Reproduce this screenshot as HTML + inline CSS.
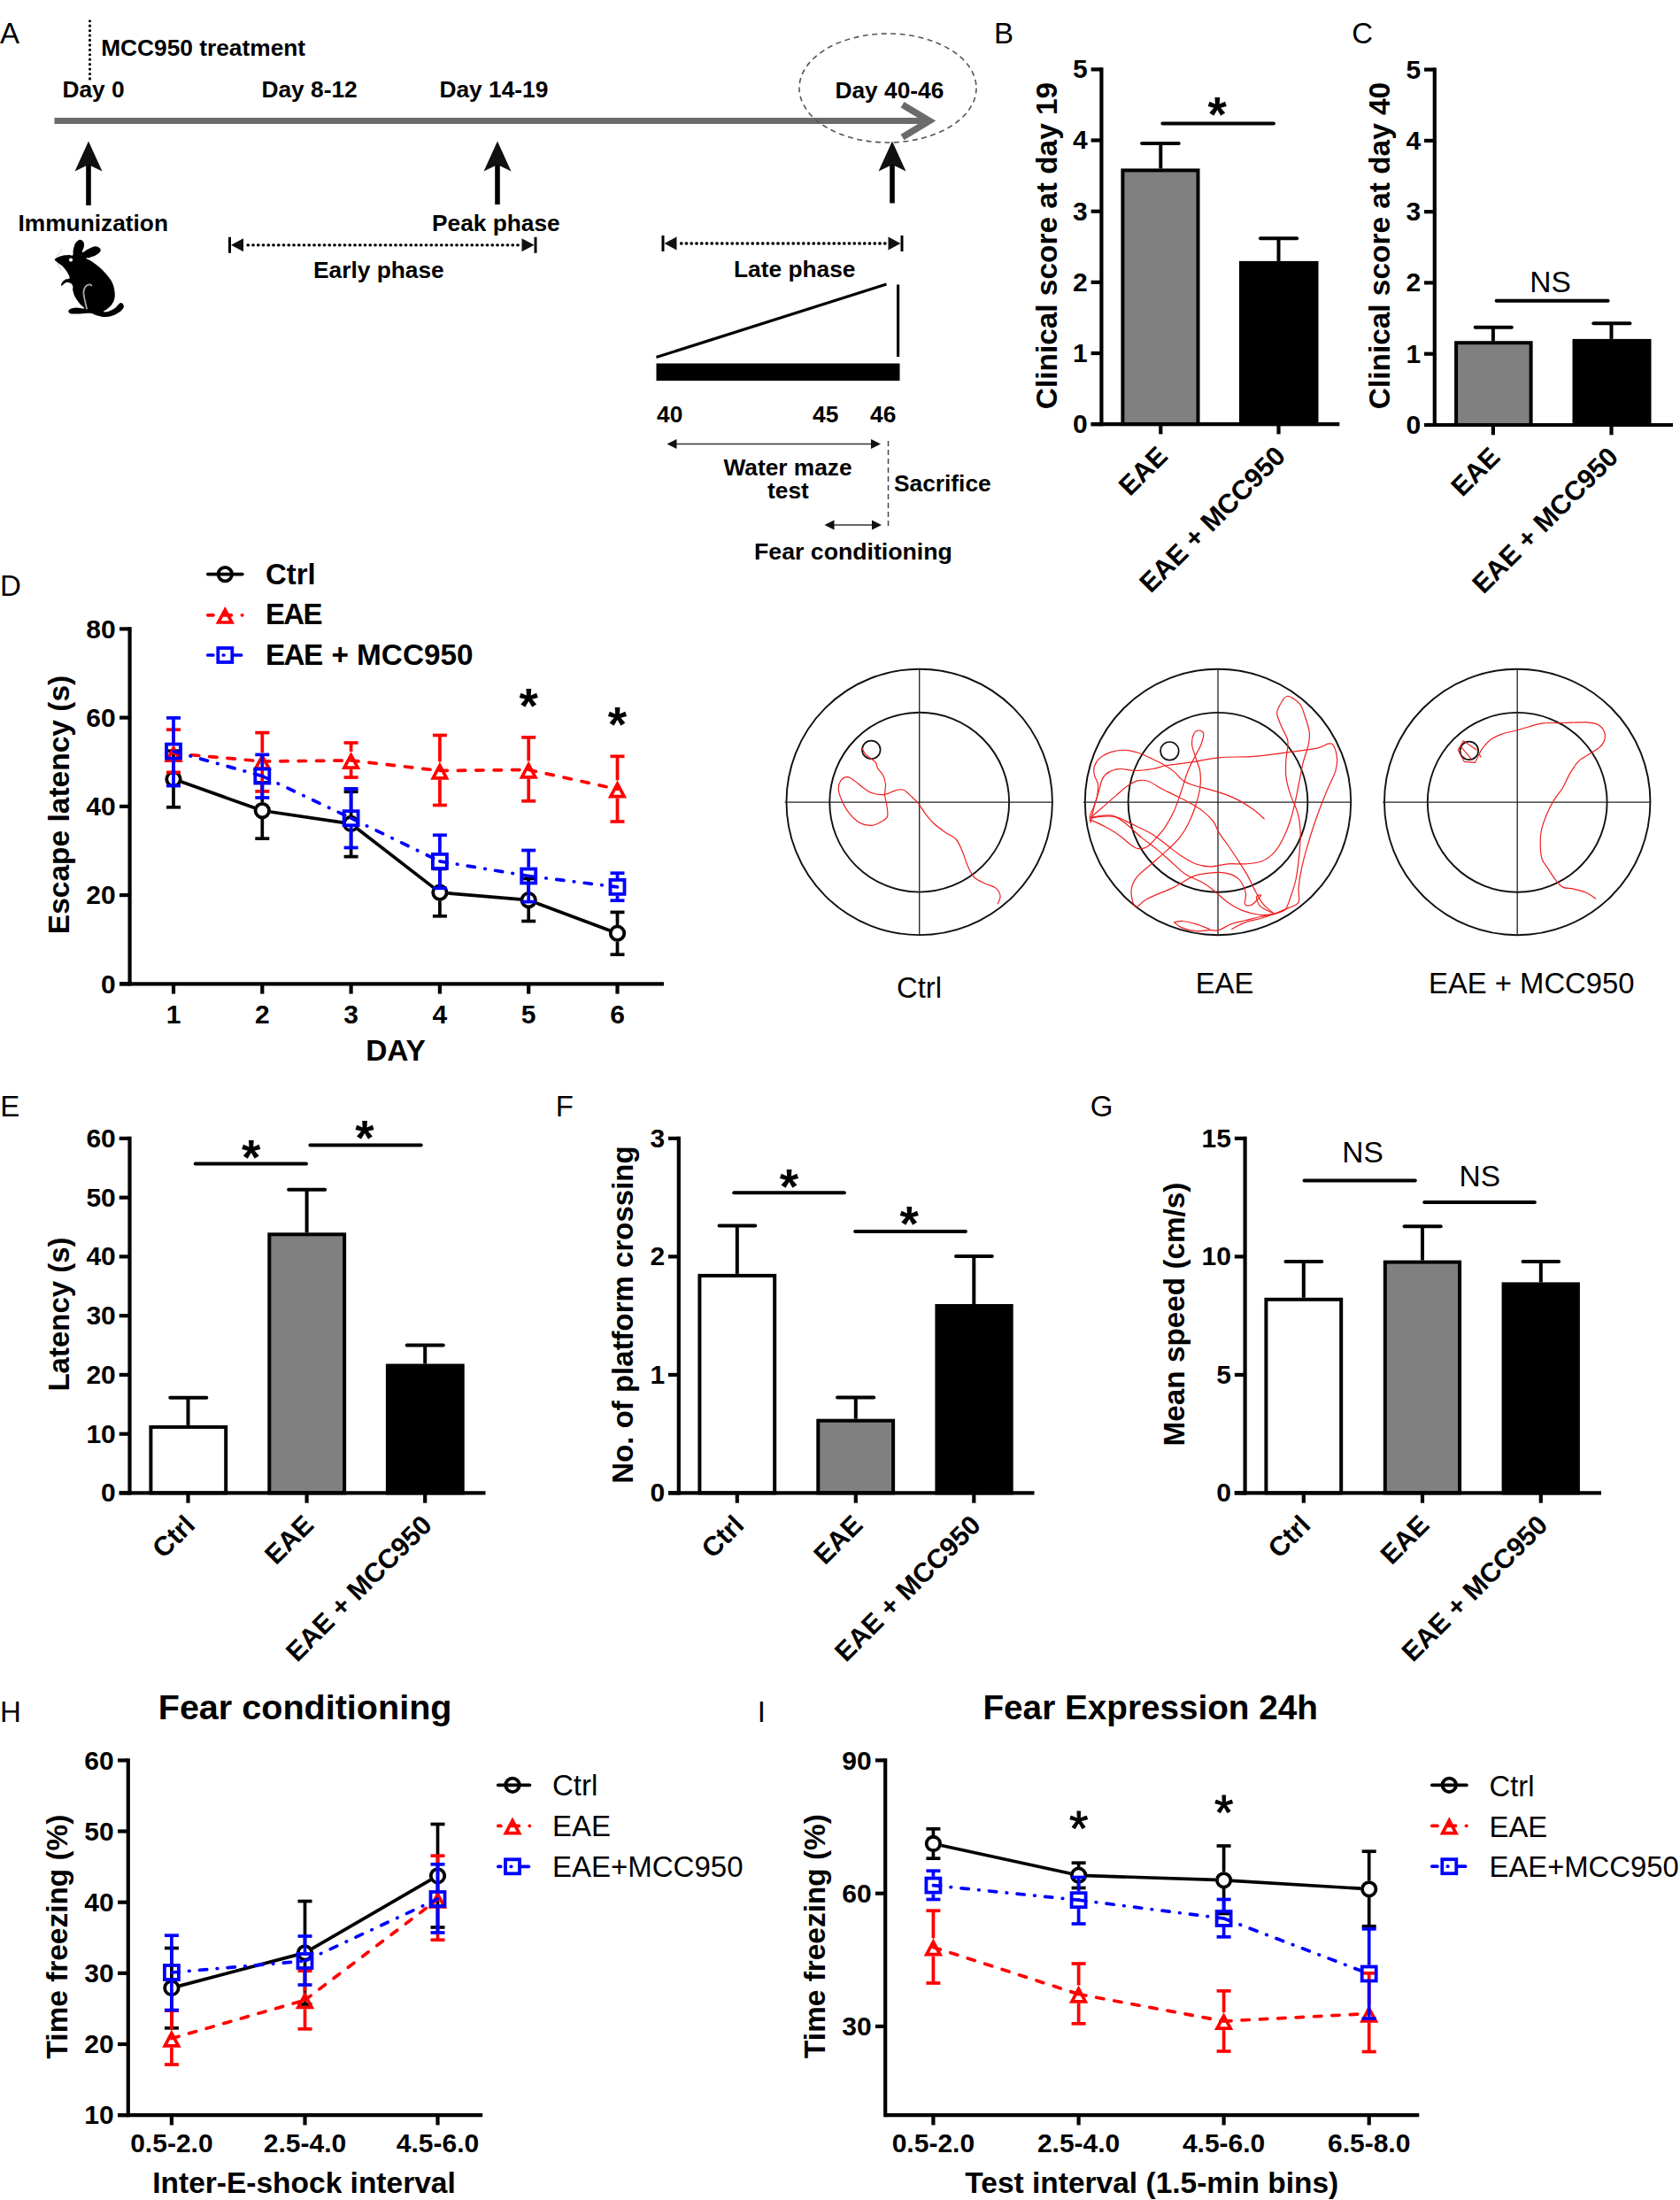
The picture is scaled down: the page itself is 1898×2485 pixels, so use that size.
<!DOCTYPE html>
<html><head><meta charset="utf-8"><title>Figure</title>
<style>html,body{margin:0;padding:0;background:#fff;overflow:hidden}svg{display:block;font-family:"Liberation Sans",sans-serif}</style></head>
<body><svg width="1898" height="2485" viewBox="0 0 1898 2485" font-family="Liberation Sans, sans-serif">
<rect width="1898" height="2485" fill="#fff"/>
<text x="0.0" y="48.6" font-size="33" text-anchor="start" fill="#000">A</text>
<text x="1123.0" y="48.6" font-size="33" text-anchor="start" fill="#000">B</text>
<text x="1527.3" y="48.6" font-size="33" text-anchor="start" fill="#000">C</text>
<text x="0.0" y="673.3" font-size="33" text-anchor="start" fill="#000">D</text>
<text x="0.3" y="1260.8" font-size="33" text-anchor="start" fill="#000">E</text>
<text x="627.8" y="1260.8" font-size="33" text-anchor="start" fill="#000">F</text>
<text x="1231.7" y="1260.8" font-size="33" text-anchor="start" fill="#000">G</text>
<text x="0.0" y="1945.0" font-size="33" text-anchor="start" fill="#000">H</text>
<text x="855.8" y="1945.0" font-size="33" text-anchor="start" fill="#000">I</text>
<line x1="101.5" y1="23.7" x2="101.5" y2="89.0" stroke="#000" stroke-width="3.1" stroke-linecap="round" stroke-dasharray="0.1 5.33"/>
<text x="114.2" y="63.2" font-size="26.3" font-weight="bold" text-anchor="start" fill="#000">MCC950 treatment</text>
<text x="70.5" y="110.4" font-size="26.3" font-weight="bold" text-anchor="start" fill="#000">Day 0</text>
<text x="295.5" y="110.4" font-size="26.3" font-weight="bold" text-anchor="start" fill="#000">Day 8-12</text>
<text x="496.5" y="110.4" font-size="26.3" font-weight="bold" text-anchor="start" fill="#000">Day 14-19</text>
<text x="943.5" y="111.3" font-size="26.3" font-weight="bold" text-anchor="start" fill="#000">Day 40-46</text>
<line x1="61.5" y1="136.6" x2="1044.0" y2="136.6" stroke="#6b6b6b" stroke-width="7" stroke-linecap="butt"/>
<polyline points="1019.5,118.3 1050,136.6 1019.5,155" fill="none" stroke="#6b6b6b" stroke-width="7.5" stroke-linejoin="miter"/>
<ellipse cx="1003" cy="99.5" rx="100" ry="61.5" fill="none" stroke="#555" stroke-width="1.6" stroke-dasharray="6 4.5"/>
<line x1="100.0" y1="183.5" x2="100.0" y2="232.0" stroke="#000" stroke-width="5.6" stroke-linecap="butt"/>
<path d="M100.0,159.5 L115.5,193.5 L100.0,186.0 L84.5,193.5Z" fill="#111"/>
<line x1="562.0" y1="183.5" x2="562.0" y2="231.0" stroke="#000" stroke-width="5.6" stroke-linecap="butt"/>
<path d="M562.0,159.5 L577.5,193.5 L562.0,186.0 L546.5,193.5Z" fill="#111"/>
<line x1="1008.0" y1="183.5" x2="1008.0" y2="229.5" stroke="#000" stroke-width="5.6" stroke-linecap="butt"/>
<path d="M1008.0,159.5 L1023.5,193.5 L1008.0,186.0 L992.5,193.5Z" fill="#111"/>
<text x="20.5" y="260.8" font-size="26.3" font-weight="bold" text-anchor="start" fill="#000">Immunization</text>
<text x="488.0" y="261.3" font-size="26.3" font-weight="bold" text-anchor="start" fill="#000">Peak phase</text>
<text x="354.0" y="313.8" font-size="26.3" font-weight="bold" text-anchor="start" fill="#000">Early phase</text>
<text x="829.0" y="312.8" font-size="26.3" font-weight="bold" text-anchor="start" fill="#000">Late phase</text>
<line x1="259.5" y1="267.8" x2="259.5" y2="285.8" stroke="#000" stroke-width="3" stroke-linecap="butt"/>
<line x1="605.0" y1="267.8" x2="605.0" y2="285.8" stroke="#000" stroke-width="3" stroke-linecap="butt"/>
<path d="M261.0,276.8 L275.0,269.3 L275.0,284.3Z" fill="#111"/>
<path d="M603.5,276.8 L589.5,269.3 L589.5,284.3Z" fill="#111"/>
<line x1="280.0" y1="276.8" x2="586.5" y2="276.8" stroke="#000" stroke-width="3.3" stroke-linecap="round" stroke-dasharray="0.5 5.25"/>
<line x1="749.0" y1="266.0" x2="749.0" y2="284.0" stroke="#000" stroke-width="3" stroke-linecap="butt"/>
<line x1="1019.0" y1="266.0" x2="1019.0" y2="284.0" stroke="#000" stroke-width="3" stroke-linecap="butt"/>
<path d="M750.5,275.0 L764.5,267.5 L764.5,282.5Z" fill="#111"/>
<path d="M1017.5,275.0 L1003.5,267.5 L1003.5,282.5Z" fill="#111"/>
<line x1="769.5" y1="275.0" x2="1000.5" y2="275.0" stroke="#000" stroke-width="3.3" stroke-linecap="round" stroke-dasharray="0.5 5.25"/>
<line x1="741.5" y1="403.5" x2="1001.5" y2="321.0" stroke="#000" stroke-width="3.2" stroke-linecap="butt"/>
<line x1="1014.6" y1="321.5" x2="1014.6" y2="403.0" stroke="#000" stroke-width="3.2" stroke-linecap="butt"/>
<rect x="741.5" y="410.5" width="275" height="19.5" fill="#000"/>
<text x="742.0" y="476.8" font-size="26.3" font-weight="bold" text-anchor="start" fill="#000">40</text>
<text x="918.0" y="476.8" font-size="26.3" font-weight="bold" text-anchor="start" fill="#000">45</text>
<text x="983.0" y="476.8" font-size="26.3" font-weight="bold" text-anchor="start" fill="#000">46</text>
<line x1="759.5" y1="501.5" x2="989.0" y2="501.5" stroke="#333" stroke-width="1.6" stroke-linecap="butt"/>
<path d="M753.5,501.5 L764.5,496.0 L764.5,507.0Z" fill="#111"/>
<path d="M995.0,501.5 L984.0,496.0 L984.0,507.0Z" fill="#111"/>
<line x1="937.5" y1="593.0" x2="990.0" y2="593.0" stroke="#333" stroke-width="1.6" stroke-linecap="butt"/>
<path d="M931.5,593.0 L942.5,587.5 L942.5,598.5Z" fill="#111"/>
<path d="M996.0,593.0 L985.0,587.5 L985.0,598.5Z" fill="#111"/>
<text x="890.0" y="537.3" font-size="26.3" font-weight="bold" text-anchor="middle" fill="#000">Water maze</text>
<text x="890.5" y="562.8" font-size="26.3" font-weight="bold" text-anchor="middle" fill="#000">test</text>
<text x="1010.0" y="554.8" font-size="26.3" font-weight="bold" text-anchor="start" fill="#000">Sacrifice</text>
<text x="852.0" y="631.8" font-size="26.7" font-weight="bold" text-anchor="start" fill="#000">Fear conditioning</text>
<line x1="1003.5" y1="498.0" x2="1003.5" y2="597.0" stroke="#445" stroke-width="1.5" stroke-linecap="butt" stroke-dasharray="6 4"/>
<path d="M61.8,293.2 C61.8,292.3 63.6,291.4 65.0,290.7 C66.4,290.0 68.0,289.4 70.0,288.9 C72.0,288.5 75.1,288.1 77.1,288.0 C79.2,287.9 81.2,289.3 82.1,288.4 C83.1,287.6 82.2,285.1 82.7,282.9 C83.2,280.6 83.8,277.0 85.0,275.0 C86.2,273.0 88.5,271.0 90.0,270.7 C91.5,270.4 93.5,271.9 94.3,273.2 C95.1,274.5 95.1,276.6 94.9,278.6 C94.6,280.5 92.0,284.6 93.0,285.0 C94.0,285.4 98.2,281.8 100.7,280.7 C103.2,279.6 105.8,278.3 107.9,278.2 C109.9,278.2 112.0,279.3 112.9,280.4 C113.8,281.4 114.0,282.9 113.2,284.3 C112.4,285.7 109.8,287.5 107.9,288.6 C105.9,289.7 103.2,290.3 101.4,290.9 C99.6,291.4 96.7,291.0 97.1,291.8 C97.6,292.6 101.3,293.6 104.3,295.7 C107.3,297.8 111.4,300.7 115.0,304.3 C118.6,307.9 123.3,313.2 125.7,317.1 C128.1,321.1 128.7,324.5 129.3,327.9 C129.9,331.2 130.0,334.4 129.4,337.1 C128.9,339.9 127.5,342.3 126.1,344.3 C124.6,346.3 122.3,348.0 120.7,349.3 C119.2,350.6 116.5,351.7 116.8,352.1 C117.0,352.6 120.1,352.6 122.1,352.0 C124.2,351.4 126.9,350.2 129.3,348.6 C131.7,346.9 134.7,342.4 136.4,342.0 C138.2,341.6 140.1,344.7 139.9,346.4 C139.6,348.2 137.4,350.7 135.0,352.5 C132.6,354.3 128.7,356.2 125.7,357.1 C122.7,358.1 120.1,358.2 117.1,358.0 C114.2,357.8 110.2,356.4 107.9,355.7 C105.5,355.0 105.8,354.1 102.9,353.9 C99.9,353.7 93.7,354.3 90.0,354.4 C86.3,354.5 82.8,354.8 80.7,354.4 C78.6,354.0 77.5,353.1 77.3,352.1 C77.0,351.2 77.8,349.7 79.3,348.9 C80.8,348.2 83.8,347.6 86.4,347.5 C89.1,347.4 94.8,349.2 95.4,348.4 C96.0,347.7 91.8,345.1 90.0,342.9 C88.2,340.6 85.9,337.5 84.6,335.0 C83.4,332.5 82.7,329.8 82.3,327.9 C81.9,325.9 82.7,324.5 82.3,323.2 C81.9,321.9 81.1,320.9 80.0,320.1 C78.9,319.4 77.0,318.6 75.7,318.7 C74.5,318.8 73.6,319.9 72.5,320.6 C71.4,321.3 69.6,323.2 69.1,323.0 C68.7,322.8 69.3,320.5 70.0,319.3 C70.7,318.1 72.0,316.7 73.4,315.9 C74.9,315.0 78.2,315.6 78.6,314.1 C79.0,312.7 77.0,309.4 75.7,307.1 C74.4,304.9 72.5,302.5 70.7,300.7 C68.9,298.9 66.5,297.7 65.0,296.4 C63.5,295.2 61.8,294.2 61.8,293.2Z" fill="#000"/>
<circle cx="80.0" cy="293.6" r="2.1" fill="#fff"/>
<path d="M98.2,349.3 C97.8,347.5 96.3,341.8 95.7,338.6 C95.1,335.4 94.3,332.4 94.4,330.0 C94.5,327.6 95.4,325.4 96.4,323.9 C97.5,322.5 99.5,321.5 100.7,321.3 C102.0,321.1 103.4,322.6 103.9,322.9" fill="none" stroke="#aaa" stroke-width="1.8"/>
<path d="M63.9,290.0 L70.0,281.4" fill="none" stroke="#bbb" stroke-width="0.8"/>
<path d="M63.9,296.4 L69.6,305.7" fill="none" stroke="#bbb" stroke-width="0.8"/>
<line x1="1311.3" y1="162.0" x2="1311.3" y2="190.4" stroke="#000" stroke-width="4.0" stroke-linecap="butt"/>
<line x1="1290.1" y1="162.0" x2="1331.7" y2="162.0" stroke="#000" stroke-width="4.0" stroke-linecap="round"/>
<rect x="1268.4" y="192.4" width="85.1" height="286.7" fill="#808080" stroke="#000" stroke-width="4.0"/>
<line x1="1444.5" y1="269.3" x2="1444.5" y2="294.9" stroke="#000" stroke-width="4.0" stroke-linecap="butt"/>
<line x1="1424.0" y1="269.3" x2="1465.1" y2="269.3" stroke="#000" stroke-width="4.0" stroke-linecap="round"/>
<rect x="1402.0" y="296.9" width="85.5" height="182.2" fill="#000" stroke="#000" stroke-width="4.0"/>
<line x1="1244.4" y1="78.4" x2="1244.4" y2="479.1" stroke="#000" stroke-width="4.2" stroke-linecap="square"/>
<line x1="1232.6" y1="479.1" x2="1513.3" y2="479.1" stroke="#000" stroke-width="4.2" stroke-linecap="butt"/>
<line x1="1232.6" y1="479.1" x2="1244.4" y2="479.1" stroke="#000" stroke-width="4.2" stroke-linecap="butt"/>
<text x="1228.7" y="489.0" font-size="30" font-weight="bold" text-anchor="end" fill="#000">0</text>
<line x1="1232.6" y1="399.0" x2="1244.4" y2="399.0" stroke="#000" stroke-width="4.2" stroke-linecap="butt"/>
<text x="1228.7" y="408.9" font-size="30" font-weight="bold" text-anchor="end" fill="#000">1</text>
<line x1="1232.6" y1="318.8" x2="1244.4" y2="318.8" stroke="#000" stroke-width="4.2" stroke-linecap="butt"/>
<text x="1228.7" y="328.7" font-size="30" font-weight="bold" text-anchor="end" fill="#000">2</text>
<line x1="1232.6" y1="238.7" x2="1244.4" y2="238.7" stroke="#000" stroke-width="4.2" stroke-linecap="butt"/>
<text x="1228.7" y="248.6" font-size="30" font-weight="bold" text-anchor="end" fill="#000">3</text>
<line x1="1232.6" y1="158.5" x2="1244.4" y2="158.5" stroke="#000" stroke-width="4.2" stroke-linecap="butt"/>
<text x="1228.7" y="168.4" font-size="30" font-weight="bold" text-anchor="end" fill="#000">4</text>
<line x1="1232.6" y1="78.4" x2="1244.4" y2="78.4" stroke="#000" stroke-width="4.2" stroke-linecap="butt"/>
<text x="1228.7" y="88.3" font-size="30" font-weight="bold" text-anchor="end" fill="#000">5</text>
<line x1="1311.3" y1="479.1" x2="1311.3" y2="490.4" stroke="#000" stroke-width="4.2" stroke-linecap="butt"/>
<text x="1320.8" y="517.1" font-size="30.5" font-weight="bold" text-anchor="end" fill="#000" transform="rotate(-45 1320.8 517.1)">EAE</text>
<line x1="1444.5" y1="479.1" x2="1444.5" y2="490.4" stroke="#000" stroke-width="4.2" stroke-linecap="butt"/>
<text x="1454.0" y="517.1" font-size="30.5" font-weight="bold" text-anchor="end" fill="#000" transform="rotate(-45 1454.0 517.1)">EAE + MCC950</text>
<text x="1193.5" y="277.5" font-size="33.4" font-weight="bold" text-anchor="middle" fill="#000" transform="rotate(-90 1193.5 277.5)">Clinical score at day 19</text>
<line x1="1313.4" y1="139.6" x2="1438.9" y2="139.6" stroke="#000" stroke-width="4.0" stroke-linecap="round"/>
<text x="1375.3" y="147.6" font-size="55" font-weight="bold" text-anchor="middle" fill="#000">*</text>
<line x1="1686.9" y1="369.8" x2="1686.9" y2="385.2" stroke="#000" stroke-width="4.0" stroke-linecap="butt"/>
<line x1="1666.7" y1="369.8" x2="1707.8" y2="369.8" stroke="#000" stroke-width="4.0" stroke-linecap="round"/>
<rect x="1645.1" y="387.2" width="84.5" height="92.8" fill="#808080" stroke="#000" stroke-width="4.0"/>
<line x1="1820.5" y1="365.3" x2="1820.5" y2="382.9" stroke="#000" stroke-width="4.0" stroke-linecap="butt"/>
<line x1="1800.3" y1="365.3" x2="1841.4" y2="365.3" stroke="#000" stroke-width="4.0" stroke-linecap="round"/>
<rect x="1778.5" y="384.9" width="85.0" height="95.1" fill="#000" stroke="#000" stroke-width="4.0"/>
<line x1="1620.8" y1="78.6" x2="1620.8" y2="480.0" stroke="#000" stroke-width="4.2" stroke-linecap="square"/>
<line x1="1609.0" y1="480.0" x2="1890.0" y2="480.0" stroke="#000" stroke-width="4.2" stroke-linecap="butt"/>
<line x1="1609.0" y1="480.0" x2="1620.8" y2="480.0" stroke="#000" stroke-width="4.2" stroke-linecap="butt"/>
<text x="1605.1" y="489.9" font-size="30" font-weight="bold" text-anchor="end" fill="#000">0</text>
<line x1="1609.0" y1="399.7" x2="1620.8" y2="399.7" stroke="#000" stroke-width="4.2" stroke-linecap="butt"/>
<text x="1605.1" y="409.6" font-size="30" font-weight="bold" text-anchor="end" fill="#000">1</text>
<line x1="1609.0" y1="319.4" x2="1620.8" y2="319.4" stroke="#000" stroke-width="4.2" stroke-linecap="butt"/>
<text x="1605.1" y="329.3" font-size="30" font-weight="bold" text-anchor="end" fill="#000">2</text>
<line x1="1609.0" y1="239.2" x2="1620.8" y2="239.2" stroke="#000" stroke-width="4.2" stroke-linecap="butt"/>
<text x="1605.1" y="249.1" font-size="30" font-weight="bold" text-anchor="end" fill="#000">3</text>
<line x1="1609.0" y1="158.9" x2="1620.8" y2="158.9" stroke="#000" stroke-width="4.2" stroke-linecap="butt"/>
<text x="1605.1" y="168.8" font-size="30" font-weight="bold" text-anchor="end" fill="#000">4</text>
<line x1="1609.0" y1="78.6" x2="1620.8" y2="78.6" stroke="#000" stroke-width="4.2" stroke-linecap="butt"/>
<text x="1605.1" y="88.5" font-size="30" font-weight="bold" text-anchor="end" fill="#000">5</text>
<line x1="1686.9" y1="480.0" x2="1686.9" y2="491.3" stroke="#000" stroke-width="4.2" stroke-linecap="butt"/>
<text x="1696.4" y="518.0" font-size="30.5" font-weight="bold" text-anchor="end" fill="#000" transform="rotate(-45 1696.4 518.0)">EAE</text>
<line x1="1820.5" y1="480.0" x2="1820.5" y2="491.3" stroke="#000" stroke-width="4.2" stroke-linecap="butt"/>
<text x="1830.0" y="518.0" font-size="30.5" font-weight="bold" text-anchor="end" fill="#000" transform="rotate(-45 1830.0 518.0)">EAE + MCC950</text>
<text x="1569.8" y="277.5" font-size="33.4" font-weight="bold" text-anchor="middle" fill="#000" transform="rotate(-90 1569.8 277.5)">Clinical score at day 40</text>
<line x1="1690.6" y1="339.8" x2="1816.6" y2="339.8" stroke="#000" stroke-width="4.0" stroke-linecap="round"/>
<text x="1751.6" y="329.5" font-size="33.5" text-anchor="middle" fill="#000">NS</text>
<line x1="212.5" y1="1578.7" x2="212.5" y2="1609.9" stroke="#000" stroke-width="4.0" stroke-linecap="butt"/>
<line x1="192.3" y1="1578.7" x2="233.3" y2="1578.7" stroke="#000" stroke-width="4.0" stroke-linecap="round"/>
<rect x="170.4" y="1611.9" width="84.8" height="74.5" fill="#fff" stroke="#000" stroke-width="4.0"/>
<line x1="346.6" y1="1343.7" x2="346.6" y2="1392.3" stroke="#000" stroke-width="4.0" stroke-linecap="butt"/>
<line x1="326.1" y1="1343.7" x2="367.2" y2="1343.7" stroke="#000" stroke-width="4.0" stroke-linecap="round"/>
<rect x="304.3" y="1394.3" width="84.8" height="292.1" fill="#808080" stroke="#000" stroke-width="4.0"/>
<line x1="480.2" y1="1519.6" x2="480.2" y2="1540.5" stroke="#000" stroke-width="4.0" stroke-linecap="butt"/>
<line x1="459.7" y1="1519.6" x2="500.8" y2="1519.6" stroke="#000" stroke-width="4.0" stroke-linecap="round"/>
<rect x="437.9" y="1542.5" width="84.8" height="143.9" fill="#000" stroke="#000" stroke-width="4.0"/>
<line x1="146.5" y1="1285.9" x2="146.5" y2="1686.4" stroke="#000" stroke-width="4.2" stroke-linecap="square"/>
<line x1="134.7" y1="1686.4" x2="548.5" y2="1686.4" stroke="#000" stroke-width="4.2" stroke-linecap="butt"/>
<line x1="134.7" y1="1686.4" x2="146.5" y2="1686.4" stroke="#000" stroke-width="4.2" stroke-linecap="butt"/>
<text x="130.8" y="1696.3" font-size="30" font-weight="bold" text-anchor="end" fill="#000">0</text>
<line x1="134.7" y1="1619.7" x2="146.5" y2="1619.7" stroke="#000" stroke-width="4.2" stroke-linecap="butt"/>
<text x="130.8" y="1629.6" font-size="30" font-weight="bold" text-anchor="end" fill="#000">10</text>
<line x1="134.7" y1="1552.9" x2="146.5" y2="1552.9" stroke="#000" stroke-width="4.2" stroke-linecap="butt"/>
<text x="130.8" y="1562.8" font-size="30" font-weight="bold" text-anchor="end" fill="#000">20</text>
<line x1="134.7" y1="1486.2" x2="146.5" y2="1486.2" stroke="#000" stroke-width="4.2" stroke-linecap="butt"/>
<text x="130.8" y="1496.1" font-size="30" font-weight="bold" text-anchor="end" fill="#000">30</text>
<line x1="134.7" y1="1419.4" x2="146.5" y2="1419.4" stroke="#000" stroke-width="4.2" stroke-linecap="butt"/>
<text x="130.8" y="1429.3" font-size="30" font-weight="bold" text-anchor="end" fill="#000">40</text>
<line x1="134.7" y1="1352.7" x2="146.5" y2="1352.7" stroke="#000" stroke-width="4.2" stroke-linecap="butt"/>
<text x="130.8" y="1362.6" font-size="30" font-weight="bold" text-anchor="end" fill="#000">50</text>
<line x1="134.7" y1="1285.9" x2="146.5" y2="1285.9" stroke="#000" stroke-width="4.2" stroke-linecap="butt"/>
<text x="130.8" y="1295.8" font-size="30" font-weight="bold" text-anchor="end" fill="#000">60</text>
<line x1="212.5" y1="1686.4" x2="212.5" y2="1697.7" stroke="#000" stroke-width="4.2" stroke-linecap="butt"/>
<text x="222.0" y="1724.4" font-size="30.5" font-weight="bold" text-anchor="end" fill="#000" transform="rotate(-45 222.0 1724.4)">Ctrl</text>
<line x1="346.6" y1="1686.4" x2="346.6" y2="1697.7" stroke="#000" stroke-width="4.2" stroke-linecap="butt"/>
<text x="356.1" y="1724.4" font-size="30.5" font-weight="bold" text-anchor="end" fill="#000" transform="rotate(-45 356.1 1724.4)">EAE</text>
<line x1="480.2" y1="1686.4" x2="480.2" y2="1697.7" stroke="#000" stroke-width="4.2" stroke-linecap="butt"/>
<text x="489.7" y="1724.4" font-size="30.5" font-weight="bold" text-anchor="end" fill="#000" transform="rotate(-45 489.7 1724.4)">EAE + MCC950</text>
<text x="77.5" y="1484.5" font-size="33.0" font-weight="bold" text-anchor="middle" fill="#000" transform="rotate(-90 77.5 1484.5)">Latency (s)</text>
<line x1="220.7" y1="1314.5" x2="346.0" y2="1314.5" stroke="#000" stroke-width="4.0" stroke-linecap="round"/>
<text x="283.6" y="1326.0" font-size="55" font-weight="bold" text-anchor="middle" fill="#000">*</text>
<line x1="350.4" y1="1293.5" x2="475.7" y2="1293.5" stroke="#000" stroke-width="4.0" stroke-linecap="round"/>
<text x="412.0" y="1304.4" font-size="55" font-weight="bold" text-anchor="middle" fill="#000">*</text>
<line x1="832.8" y1="1384.4" x2="832.8" y2="1438.9" stroke="#000" stroke-width="4.0" stroke-linecap="butt"/>
<line x1="812.5" y1="1384.4" x2="853.3" y2="1384.4" stroke="#000" stroke-width="4.0" stroke-linecap="round"/>
<rect x="790.4" y="1440.9" width="84.8" height="245.5" fill="#fff" stroke="#000" stroke-width="4.0"/>
<line x1="966.8" y1="1578.4" x2="966.8" y2="1602.7" stroke="#000" stroke-width="4.0" stroke-linecap="butt"/>
<line x1="946.1" y1="1578.4" x2="987.2" y2="1578.4" stroke="#000" stroke-width="4.0" stroke-linecap="round"/>
<rect x="924.3" y="1604.7" width="84.8" height="81.7" fill="#808080" stroke="#000" stroke-width="4.0"/>
<line x1="1100.3" y1="1419.0" x2="1100.3" y2="1473.0" stroke="#000" stroke-width="4.0" stroke-linecap="butt"/>
<line x1="1080.0" y1="1419.0" x2="1120.8" y2="1419.0" stroke="#000" stroke-width="4.0" stroke-linecap="round"/>
<rect x="1058.4" y="1475.0" width="84.3" height="211.4" fill="#000" stroke="#000" stroke-width="4.0"/>
<line x1="766.8" y1="1285.9" x2="766.8" y2="1686.4" stroke="#000" stroke-width="4.2" stroke-linecap="square"/>
<line x1="755.0" y1="1686.4" x2="1168.5" y2="1686.4" stroke="#000" stroke-width="4.2" stroke-linecap="butt"/>
<line x1="755.0" y1="1686.4" x2="766.8" y2="1686.4" stroke="#000" stroke-width="4.2" stroke-linecap="butt"/>
<text x="751.1" y="1696.3" font-size="30" font-weight="bold" text-anchor="end" fill="#000">0</text>
<line x1="755.0" y1="1552.9" x2="766.8" y2="1552.9" stroke="#000" stroke-width="4.2" stroke-linecap="butt"/>
<text x="751.1" y="1562.8" font-size="30" font-weight="bold" text-anchor="end" fill="#000">1</text>
<line x1="755.0" y1="1419.4" x2="766.8" y2="1419.4" stroke="#000" stroke-width="4.2" stroke-linecap="butt"/>
<text x="751.1" y="1429.3" font-size="30" font-weight="bold" text-anchor="end" fill="#000">2</text>
<line x1="755.0" y1="1285.9" x2="766.8" y2="1285.9" stroke="#000" stroke-width="4.2" stroke-linecap="butt"/>
<text x="751.1" y="1295.8" font-size="30" font-weight="bold" text-anchor="end" fill="#000">3</text>
<line x1="832.8" y1="1686.4" x2="832.8" y2="1697.7" stroke="#000" stroke-width="4.2" stroke-linecap="butt"/>
<text x="842.3" y="1724.4" font-size="30.5" font-weight="bold" text-anchor="end" fill="#000" transform="rotate(-45 842.3 1724.4)">Ctrl</text>
<line x1="966.8" y1="1686.4" x2="966.8" y2="1697.7" stroke="#000" stroke-width="4.2" stroke-linecap="butt"/>
<text x="976.3" y="1724.4" font-size="30.5" font-weight="bold" text-anchor="end" fill="#000" transform="rotate(-45 976.3 1724.4)">EAE</text>
<line x1="1100.3" y1="1686.4" x2="1100.3" y2="1697.7" stroke="#000" stroke-width="4.2" stroke-linecap="butt"/>
<text x="1109.8" y="1724.4" font-size="30.5" font-weight="bold" text-anchor="end" fill="#000" transform="rotate(-45 1109.8 1724.4)">EAE + MCC950</text>
<text x="714.5" y="1485.0" font-size="33.0" font-weight="bold" text-anchor="middle" fill="#000" transform="rotate(-90 714.5 1485.0)">No. of platform crossing</text>
<line x1="829.2" y1="1347.3" x2="953.9" y2="1347.3" stroke="#000" stroke-width="4.0" stroke-linecap="round"/>
<text x="891.5" y="1358.6" font-size="55" font-weight="bold" text-anchor="middle" fill="#000">*</text>
<line x1="966.1" y1="1391.0" x2="1090.9" y2="1391.0" stroke="#000" stroke-width="4.0" stroke-linecap="round"/>
<text x="1027.2" y="1400.8" font-size="55" font-weight="bold" text-anchor="middle" fill="#000">*</text>
<line x1="1472.8" y1="1425.1" x2="1472.8" y2="1465.8" stroke="#000" stroke-width="4.0" stroke-linecap="butt"/>
<line x1="1452.5" y1="1425.1" x2="1493.3" y2="1425.1" stroke="#000" stroke-width="4.0" stroke-linecap="round"/>
<rect x="1430.4" y="1467.8" width="84.8" height="218.6" fill="#fff" stroke="#000" stroke-width="4.0"/>
<line x1="1607.0" y1="1385.2" x2="1607.0" y2="1423.6" stroke="#000" stroke-width="4.0" stroke-linecap="butt"/>
<line x1="1586.6" y1="1385.2" x2="1627.7" y2="1385.2" stroke="#000" stroke-width="4.0" stroke-linecap="round"/>
<rect x="1564.8" y="1425.6" width="84.3" height="260.8" fill="#808080" stroke="#000" stroke-width="4.0"/>
<line x1="1740.8" y1="1425.1" x2="1740.8" y2="1448.4" stroke="#000" stroke-width="4.0" stroke-linecap="butt"/>
<line x1="1720.5" y1="1425.1" x2="1761.1" y2="1425.1" stroke="#000" stroke-width="4.0" stroke-linecap="round"/>
<rect x="1698.6" y="1450.4" width="84.3" height="236.0" fill="#000" stroke="#000" stroke-width="4.0"/>
<line x1="1406.6" y1="1285.9" x2="1406.6" y2="1686.4" stroke="#000" stroke-width="4.2" stroke-linecap="square"/>
<line x1="1394.8" y1="1686.4" x2="1809.0" y2="1686.4" stroke="#000" stroke-width="4.2" stroke-linecap="butt"/>
<line x1="1394.8" y1="1686.4" x2="1406.6" y2="1686.4" stroke="#000" stroke-width="4.2" stroke-linecap="butt"/>
<text x="1390.9" y="1696.3" font-size="30" font-weight="bold" text-anchor="end" fill="#000">0</text>
<line x1="1394.8" y1="1552.9" x2="1406.6" y2="1552.9" stroke="#000" stroke-width="4.2" stroke-linecap="butt"/>
<text x="1390.9" y="1562.8" font-size="30" font-weight="bold" text-anchor="end" fill="#000">5</text>
<line x1="1394.8" y1="1419.4" x2="1406.6" y2="1419.4" stroke="#000" stroke-width="4.2" stroke-linecap="butt"/>
<text x="1390.9" y="1429.3" font-size="30" font-weight="bold" text-anchor="end" fill="#000">10</text>
<line x1="1394.8" y1="1285.9" x2="1406.6" y2="1285.9" stroke="#000" stroke-width="4.2" stroke-linecap="butt"/>
<text x="1390.9" y="1295.8" font-size="30" font-weight="bold" text-anchor="end" fill="#000">15</text>
<line x1="1472.8" y1="1686.4" x2="1472.8" y2="1697.7" stroke="#000" stroke-width="4.2" stroke-linecap="butt"/>
<text x="1482.3" y="1724.4" font-size="30.5" font-weight="bold" text-anchor="end" fill="#000" transform="rotate(-45 1482.3 1724.4)">Ctrl</text>
<line x1="1607.0" y1="1686.4" x2="1607.0" y2="1697.7" stroke="#000" stroke-width="4.2" stroke-linecap="butt"/>
<text x="1616.5" y="1724.4" font-size="30.5" font-weight="bold" text-anchor="end" fill="#000" transform="rotate(-45 1616.5 1724.4)">EAE</text>
<line x1="1740.8" y1="1686.4" x2="1740.8" y2="1697.7" stroke="#000" stroke-width="4.2" stroke-linecap="butt"/>
<text x="1750.3" y="1724.4" font-size="30.5" font-weight="bold" text-anchor="end" fill="#000" transform="rotate(-45 1750.3 1724.4)">EAE + MCC950</text>
<text x="1338.0" y="1484.5" font-size="33.3" font-weight="bold" text-anchor="middle" fill="#000" transform="rotate(-90 1338.0 1484.5)">Mean speed (cm/s)</text>
<line x1="1473.5" y1="1333.5" x2="1598.8" y2="1333.5" stroke="#000" stroke-width="4.0" stroke-linecap="round"/>
<text x="1539.5" y="1313.0" font-size="33.5" text-anchor="middle" fill="#000">NS</text>
<line x1="1609.2" y1="1358.0" x2="1733.9" y2="1358.0" stroke="#000" stroke-width="4.0" stroke-linecap="round"/>
<text x="1671.8" y="1339.6" font-size="33.5" text-anchor="middle" fill="#000">NS</text>
<line x1="146.6" y1="710.4" x2="146.6" y2="1111.3" stroke="#000" stroke-width="4.2" stroke-linecap="square"/>
<line x1="135.0" y1="1111.3" x2="750.0" y2="1111.3" stroke="#000" stroke-width="4.2" stroke-linecap="butt"/>
<line x1="135.0" y1="1111.3" x2="146.6" y2="1111.3" stroke="#000" stroke-width="4.2" stroke-linecap="butt"/>
<text x="130.7" y="1121.5" font-size="30" font-weight="bold" text-anchor="end" fill="#000">0</text>
<line x1="135.0" y1="1011.1" x2="146.6" y2="1011.1" stroke="#000" stroke-width="4.2" stroke-linecap="butt"/>
<text x="130.7" y="1021.3" font-size="30" font-weight="bold" text-anchor="end" fill="#000">20</text>
<line x1="135.0" y1="910.9" x2="146.6" y2="910.9" stroke="#000" stroke-width="4.2" stroke-linecap="butt"/>
<text x="130.7" y="921.1" font-size="30" font-weight="bold" text-anchor="end" fill="#000">40</text>
<line x1="135.0" y1="810.6" x2="146.6" y2="810.6" stroke="#000" stroke-width="4.2" stroke-linecap="butt"/>
<text x="130.7" y="820.8" font-size="30" font-weight="bold" text-anchor="end" fill="#000">60</text>
<line x1="135.0" y1="710.4" x2="146.6" y2="710.4" stroke="#000" stroke-width="4.2" stroke-linecap="butt"/>
<text x="130.7" y="720.6" font-size="30" font-weight="bold" text-anchor="end" fill="#000">80</text>
<line x1="196.0" y1="1111.3" x2="196.0" y2="1122.6" stroke="#000" stroke-width="4.2" stroke-linecap="butt"/>
<text x="196.0" y="1155.9" font-size="30" font-weight="bold" text-anchor="middle" fill="#000">1</text>
<line x1="296.3" y1="1111.3" x2="296.3" y2="1122.6" stroke="#000" stroke-width="4.2" stroke-linecap="butt"/>
<text x="296.3" y="1155.9" font-size="30" font-weight="bold" text-anchor="middle" fill="#000">2</text>
<line x1="396.6" y1="1111.3" x2="396.6" y2="1122.6" stroke="#000" stroke-width="4.2" stroke-linecap="butt"/>
<text x="396.6" y="1155.9" font-size="30" font-weight="bold" text-anchor="middle" fill="#000">3</text>
<line x1="496.9" y1="1111.3" x2="496.9" y2="1122.6" stroke="#000" stroke-width="4.2" stroke-linecap="butt"/>
<text x="496.9" y="1155.9" font-size="30" font-weight="bold" text-anchor="middle" fill="#000">4</text>
<line x1="597.2" y1="1111.3" x2="597.2" y2="1122.6" stroke="#000" stroke-width="4.2" stroke-linecap="butt"/>
<text x="597.2" y="1155.9" font-size="30" font-weight="bold" text-anchor="middle" fill="#000">5</text>
<line x1="697.5" y1="1111.3" x2="697.5" y2="1122.6" stroke="#000" stroke-width="4.2" stroke-linecap="butt"/>
<text x="697.5" y="1155.9" font-size="30" font-weight="bold" text-anchor="middle" fill="#000">6</text>
<text x="447.0" y="1198.3" font-size="33.5" font-weight="bold" text-anchor="middle" fill="#000">DAY</text>
<text x="78.3" y="909.0" font-size="33.5" font-weight="bold" text-anchor="middle" fill="#000" transform="rotate(-90 78.3 909.0)">Escape latency (s)</text>
<line x1="204.8" y1="883.1" x2="287.5" y2="912.5" stroke="#000" stroke-width="3.7" stroke-linecap="butt"/>
<line x1="305.5" y1="917.0" x2="387.4" y2="929.1" stroke="#000" stroke-width="3.7" stroke-linecap="butt"/>
<line x1="404.0" y1="936.2" x2="489.5" y2="1002.4" stroke="#000" stroke-width="3.7" stroke-linecap="butt"/>
<line x1="506.2" y1="1008.9" x2="587.9" y2="1015.9" stroke="#000" stroke-width="3.7" stroke-linecap="butt"/>
<line x1="605.9" y1="1020.0" x2="688.8" y2="1050.9" stroke="#000" stroke-width="3.7" stroke-linecap="butt"/>
<line x1="196.0" y1="848.2" x2="196.0" y2="870.7" stroke="#000" stroke-width="3.7" stroke-linecap="butt"/>
<line x1="188.0" y1="848.2" x2="204.0" y2="848.2" stroke="#000" stroke-width="3.7" stroke-linecap="butt"/>
<line x1="196.0" y1="889.3" x2="196.0" y2="911.8" stroke="#000" stroke-width="3.7" stroke-linecap="butt"/>
<line x1="188.0" y1="911.8" x2="204.0" y2="911.8" stroke="#000" stroke-width="3.7" stroke-linecap="butt"/>
<line x1="296.3" y1="884.0" x2="296.3" y2="906.3" stroke="#000" stroke-width="3.7" stroke-linecap="butt"/>
<line x1="288.3" y1="884.0" x2="304.3" y2="884.0" stroke="#000" stroke-width="3.7" stroke-linecap="butt"/>
<line x1="296.3" y1="924.9" x2="296.3" y2="947.2" stroke="#000" stroke-width="3.7" stroke-linecap="butt"/>
<line x1="288.3" y1="947.2" x2="304.3" y2="947.2" stroke="#000" stroke-width="3.7" stroke-linecap="butt"/>
<line x1="396.6" y1="894.3" x2="396.6" y2="921.2" stroke="#000" stroke-width="3.7" stroke-linecap="butt"/>
<line x1="388.6" y1="894.3" x2="404.6" y2="894.3" stroke="#000" stroke-width="3.7" stroke-linecap="butt"/>
<line x1="396.6" y1="939.8" x2="396.6" y2="967.6" stroke="#000" stroke-width="3.7" stroke-linecap="butt"/>
<line x1="388.6" y1="967.6" x2="404.6" y2="967.6" stroke="#000" stroke-width="3.7" stroke-linecap="butt"/>
<line x1="496.9" y1="981.4" x2="496.9" y2="998.8" stroke="#000" stroke-width="3.7" stroke-linecap="butt"/>
<line x1="488.9" y1="981.4" x2="504.9" y2="981.4" stroke="#000" stroke-width="3.7" stroke-linecap="butt"/>
<line x1="496.9" y1="1017.4" x2="496.9" y2="1034.8" stroke="#000" stroke-width="3.7" stroke-linecap="butt"/>
<line x1="488.9" y1="1034.8" x2="504.9" y2="1034.8" stroke="#000" stroke-width="3.7" stroke-linecap="butt"/>
<line x1="597.2" y1="992.5" x2="597.2" y2="1007.4" stroke="#000" stroke-width="3.7" stroke-linecap="butt"/>
<line x1="589.2" y1="992.5" x2="605.2" y2="992.5" stroke="#000" stroke-width="3.7" stroke-linecap="butt"/>
<line x1="597.2" y1="1026.0" x2="597.2" y2="1040.5" stroke="#000" stroke-width="3.7" stroke-linecap="butt"/>
<line x1="589.2" y1="1040.5" x2="605.2" y2="1040.5" stroke="#000" stroke-width="3.7" stroke-linecap="butt"/>
<line x1="697.5" y1="1030.4" x2="697.5" y2="1044.9" stroke="#000" stroke-width="3.7" stroke-linecap="butt"/>
<line x1="689.5" y1="1030.4" x2="705.5" y2="1030.4" stroke="#000" stroke-width="3.7" stroke-linecap="butt"/>
<line x1="697.5" y1="1063.5" x2="697.5" y2="1078.2" stroke="#000" stroke-width="3.7" stroke-linecap="butt"/>
<line x1="689.5" y1="1078.2" x2="705.5" y2="1078.2" stroke="#000" stroke-width="3.7" stroke-linecap="butt"/>
<circle cx="196.0" cy="880.0" r="7.75" fill="none" stroke="#000" stroke-width="3.8"/>
<circle cx="296.3" cy="915.6" r="7.75" fill="none" stroke="#000" stroke-width="3.8"/>
<circle cx="396.6" cy="930.5" r="7.75" fill="none" stroke="#000" stroke-width="3.8"/>
<circle cx="496.9" cy="1008.1" r="7.75" fill="none" stroke="#000" stroke-width="3.8"/>
<circle cx="597.2" cy="1016.7" r="7.75" fill="none" stroke="#000" stroke-width="3.8"/>
<circle cx="697.5" cy="1054.2" r="7.75" fill="none" stroke="#000" stroke-width="3.8"/>
<line x1="196.0" y1="850.9" x2="296.3" y2="860.0" stroke="#ff0000" stroke-width="3.7" stroke-linecap="round" stroke-dasharray="8.4 12"/>
<line x1="296.3" y1="860.0" x2="396.6" y2="859.0" stroke="#ff0000" stroke-width="3.7" stroke-linecap="round" stroke-dasharray="8.4 12"/>
<line x1="396.6" y1="859.0" x2="496.9" y2="870.5" stroke="#ff0000" stroke-width="3.7" stroke-linecap="round" stroke-dasharray="8.4 12"/>
<line x1="496.9" y1="870.5" x2="597.2" y2="869.5" stroke="#ff0000" stroke-width="3.7" stroke-linecap="round" stroke-dasharray="8.4 12"/>
<line x1="597.2" y1="869.5" x2="697.5" y2="891.4" stroke="#ff0000" stroke-width="3.7" stroke-linecap="round" stroke-dasharray="8.4 12"/>
<line x1="196.0" y1="824.2" x2="196.0" y2="840.9" stroke="#ff0000" stroke-width="3.7" stroke-linecap="butt"/>
<line x1="188.0" y1="824.2" x2="204.0" y2="824.2" stroke="#ff0000" stroke-width="3.7" stroke-linecap="butt"/>
<line x1="196.0" y1="861.0" x2="196.0" y2="872.4" stroke="#ff0000" stroke-width="3.7" stroke-linecap="butt"/>
<line x1="188.0" y1="872.4" x2="204.0" y2="872.4" stroke="#ff0000" stroke-width="3.7" stroke-linecap="butt"/>
<line x1="296.3" y1="827.6" x2="296.3" y2="850.0" stroke="#ff0000" stroke-width="3.7" stroke-linecap="butt"/>
<line x1="288.3" y1="827.6" x2="304.3" y2="827.6" stroke="#ff0000" stroke-width="3.7" stroke-linecap="butt"/>
<line x1="296.3" y1="870.1" x2="296.3" y2="893.9" stroke="#ff0000" stroke-width="3.7" stroke-linecap="butt"/>
<line x1="288.3" y1="893.9" x2="304.3" y2="893.9" stroke="#ff0000" stroke-width="3.7" stroke-linecap="butt"/>
<line x1="396.6" y1="839.0" x2="396.6" y2="849.0" stroke="#ff0000" stroke-width="3.7" stroke-linecap="butt"/>
<line x1="388.6" y1="839.0" x2="404.6" y2="839.0" stroke="#ff0000" stroke-width="3.7" stroke-linecap="butt"/>
<line x1="396.6" y1="869.1" x2="396.6" y2="878.1" stroke="#ff0000" stroke-width="3.7" stroke-linecap="butt"/>
<line x1="388.6" y1="878.1" x2="404.6" y2="878.1" stroke="#ff0000" stroke-width="3.7" stroke-linecap="butt"/>
<line x1="496.9" y1="830.5" x2="496.9" y2="860.5" stroke="#ff0000" stroke-width="3.7" stroke-linecap="butt"/>
<line x1="488.9" y1="830.5" x2="504.9" y2="830.5" stroke="#ff0000" stroke-width="3.7" stroke-linecap="butt"/>
<line x1="496.9" y1="880.6" x2="496.9" y2="909.5" stroke="#ff0000" stroke-width="3.7" stroke-linecap="butt"/>
<line x1="488.9" y1="909.5" x2="504.9" y2="909.5" stroke="#ff0000" stroke-width="3.7" stroke-linecap="butt"/>
<line x1="597.2" y1="832.9" x2="597.2" y2="859.5" stroke="#ff0000" stroke-width="3.7" stroke-linecap="butt"/>
<line x1="589.2" y1="832.9" x2="605.2" y2="832.9" stroke="#ff0000" stroke-width="3.7" stroke-linecap="butt"/>
<line x1="597.2" y1="879.6" x2="597.2" y2="904.8" stroke="#ff0000" stroke-width="3.7" stroke-linecap="butt"/>
<line x1="589.2" y1="904.8" x2="605.2" y2="904.8" stroke="#ff0000" stroke-width="3.7" stroke-linecap="butt"/>
<line x1="697.5" y1="854.3" x2="697.5" y2="881.4" stroke="#ff0000" stroke-width="3.7" stroke-linecap="butt"/>
<line x1="689.5" y1="854.3" x2="705.5" y2="854.3" stroke="#ff0000" stroke-width="3.7" stroke-linecap="butt"/>
<line x1="697.5" y1="901.5" x2="697.5" y2="928.0" stroke="#ff0000" stroke-width="3.7" stroke-linecap="butt"/>
<line x1="689.5" y1="928.0" x2="705.5" y2="928.0" stroke="#ff0000" stroke-width="3.7" stroke-linecap="butt"/>
<path d="M196.0,844.9 L203.6,859.1 L188.4,859.1Z" fill="none" stroke="#ff0000" stroke-width="3.7" stroke-linejoin="miter"/>
<path d="M296.3,854.0 L303.9,868.2 L288.7,868.2Z" fill="none" stroke="#ff0000" stroke-width="3.7" stroke-linejoin="miter"/>
<path d="M396.6,853.0 L404.2,867.2 L389.0,867.2Z" fill="none" stroke="#ff0000" stroke-width="3.7" stroke-linejoin="miter"/>
<path d="M496.9,864.5 L504.5,878.8 L489.3,878.8Z" fill="none" stroke="#ff0000" stroke-width="3.7" stroke-linejoin="miter"/>
<path d="M597.2,863.5 L604.8,877.8 L589.6,877.8Z" fill="none" stroke="#ff0000" stroke-width="3.7" stroke-linejoin="miter"/>
<path d="M697.5,885.4 L705.1,899.6 L689.9,899.6Z" fill="none" stroke="#ff0000" stroke-width="3.7" stroke-linejoin="miter"/>
<line x1="196.0" y1="848.6" x2="296.3" y2="876.6" stroke="#0000ff" stroke-width="3.7" stroke-linecap="round" stroke-dasharray="8.3 11.4 0.6 11.4"/>
<line x1="296.3" y1="876.6" x2="396.6" y2="924.2" stroke="#0000ff" stroke-width="3.7" stroke-linecap="round" stroke-dasharray="8.3 11.4 0.6 11.4"/>
<line x1="396.6" y1="924.2" x2="496.9" y2="972.9" stroke="#0000ff" stroke-width="3.7" stroke-linecap="round" stroke-dasharray="8.3 11.4 0.6 11.4"/>
<line x1="496.9" y1="972.9" x2="597.2" y2="989.5" stroke="#0000ff" stroke-width="3.7" stroke-linecap="round" stroke-dasharray="8.3 11.4 0.6 11.4"/>
<line x1="597.2" y1="989.5" x2="697.5" y2="1001.9" stroke="#0000ff" stroke-width="3.7" stroke-linecap="round" stroke-dasharray="8.3 11.4 0.6 11.4"/>
<line x1="196.0" y1="810.9" x2="196.0" y2="838.8" stroke="#0000ff" stroke-width="3.7" stroke-linecap="butt"/>
<line x1="188.0" y1="810.9" x2="204.0" y2="810.9" stroke="#0000ff" stroke-width="3.7" stroke-linecap="butt"/>
<line x1="196.0" y1="858.4" x2="196.0" y2="887.6" stroke="#0000ff" stroke-width="3.7" stroke-linecap="butt"/>
<line x1="188.0" y1="887.6" x2="204.0" y2="887.6" stroke="#0000ff" stroke-width="3.7" stroke-linecap="butt"/>
<line x1="296.3" y1="852.4" x2="296.3" y2="866.8" stroke="#0000ff" stroke-width="3.7" stroke-linecap="butt"/>
<line x1="288.3" y1="852.4" x2="304.3" y2="852.4" stroke="#0000ff" stroke-width="3.7" stroke-linecap="butt"/>
<line x1="296.3" y1="886.4" x2="296.3" y2="901.0" stroke="#0000ff" stroke-width="3.7" stroke-linecap="butt"/>
<line x1="288.3" y1="901.0" x2="304.3" y2="901.0" stroke="#0000ff" stroke-width="3.7" stroke-linecap="butt"/>
<line x1="396.6" y1="890.9" x2="396.6" y2="914.4" stroke="#0000ff" stroke-width="3.7" stroke-linecap="butt"/>
<line x1="388.6" y1="890.9" x2="404.6" y2="890.9" stroke="#0000ff" stroke-width="3.7" stroke-linecap="butt"/>
<line x1="396.6" y1="934.0" x2="396.6" y2="957.5" stroke="#0000ff" stroke-width="3.7" stroke-linecap="butt"/>
<line x1="388.6" y1="957.5" x2="404.6" y2="957.5" stroke="#0000ff" stroke-width="3.7" stroke-linecap="butt"/>
<line x1="496.9" y1="943.3" x2="496.9" y2="963.1" stroke="#0000ff" stroke-width="3.7" stroke-linecap="butt"/>
<line x1="488.9" y1="943.3" x2="504.9" y2="943.3" stroke="#0000ff" stroke-width="3.7" stroke-linecap="butt"/>
<line x1="496.9" y1="982.7" x2="496.9" y2="1003.3" stroke="#0000ff" stroke-width="3.7" stroke-linecap="butt"/>
<line x1="488.9" y1="1003.3" x2="504.9" y2="1003.3" stroke="#0000ff" stroke-width="3.7" stroke-linecap="butt"/>
<line x1="597.2" y1="960.5" x2="597.2" y2="979.7" stroke="#0000ff" stroke-width="3.7" stroke-linecap="butt"/>
<line x1="589.2" y1="960.5" x2="605.2" y2="960.5" stroke="#0000ff" stroke-width="3.7" stroke-linecap="butt"/>
<line x1="597.2" y1="999.3" x2="597.2" y2="1018.6" stroke="#0000ff" stroke-width="3.7" stroke-linecap="butt"/>
<line x1="589.2" y1="1018.6" x2="605.2" y2="1018.6" stroke="#0000ff" stroke-width="3.7" stroke-linecap="butt"/>
<line x1="697.5" y1="986.2" x2="697.5" y2="992.1" stroke="#0000ff" stroke-width="3.7" stroke-linecap="butt"/>
<line x1="689.5" y1="986.2" x2="705.5" y2="986.2" stroke="#0000ff" stroke-width="3.7" stroke-linecap="butt"/>
<line x1="697.5" y1="1011.7" x2="697.5" y2="1017.2" stroke="#0000ff" stroke-width="3.7" stroke-linecap="butt"/>
<line x1="689.5" y1="1017.2" x2="705.5" y2="1017.2" stroke="#0000ff" stroke-width="3.7" stroke-linecap="butt"/>
<rect x="188.0" y="840.6" width="16" height="16" fill="none" stroke="#0000ff" stroke-width="3.8"/>
<rect x="288.3" y="868.6" width="16" height="16" fill="none" stroke="#0000ff" stroke-width="3.8"/>
<rect x="388.6" y="916.2" width="16" height="16" fill="none" stroke="#0000ff" stroke-width="3.8"/>
<rect x="488.9" y="964.9" width="16" height="16" fill="none" stroke="#0000ff" stroke-width="3.8"/>
<rect x="589.2" y="981.5" width="16" height="16" fill="none" stroke="#0000ff" stroke-width="3.8"/>
<rect x="689.5" y="993.9" width="16" height="16" fill="none" stroke="#0000ff" stroke-width="3.8"/>
<text x="597.2" y="816.4" font-size="55" font-weight="bold" text-anchor="middle" fill="#000">*</text>
<text x="697.5" y="836.9" font-size="55" font-weight="bold" text-anchor="middle" fill="#000">*</text>
<line x1="234.8" y1="648.6" x2="273.8" y2="648.6" stroke="#000" stroke-width="3.7" stroke-linecap="round"/>
<circle cx="254.3" cy="648.6" r="7.75" fill="none" stroke="#000" stroke-width="3.8"/>
<text x="300.0" y="659.5" font-size="32.9" font-weight="bold" text-anchor="start" fill="#000">Ctrl</text>
<line x1="234.8" y1="694.8" x2="273.8" y2="694.8" stroke="#ff0000" stroke-width="3.7" stroke-linecap="round" stroke-dasharray="8.4 12" stroke-dashoffset="2.2"/>
<path d="M254.3,688.8 L261.9,703.0 L246.7,703.0Z" fill="none" stroke="#ff0000" stroke-width="3.7" stroke-linejoin="miter"/>
<text x="300.0" y="705.0" font-size="32.9" font-weight="bold" text-anchor="start" fill="#000"><tspan letter-spacing="-0.05em">EA</tspan>E</text>
<line x1="234.8" y1="740.0" x2="273.8" y2="740.0" stroke="#0000ff" stroke-width="3.7" stroke-linecap="round" stroke-dasharray="8.3 11.4 0.6 11.4" stroke-dashoffset="2.2"/>
<rect x="246.3" y="732.0" width="16" height="16" fill="none" stroke="#0000ff" stroke-width="3.8"/>
<text x="300.0" y="750.5" font-size="33.3" font-weight="bold" text-anchor="start" fill="#000"><tspan letter-spacing="-0.05em">EA</tspan>E + MCC950</text>
<line x1="144.8" y1="1988.4" x2="144.8" y2="2389.1" stroke="#000" stroke-width="4.2" stroke-linecap="square"/>
<line x1="133.0" y1="2389.1" x2="545.2" y2="2389.1" stroke="#000" stroke-width="4.2" stroke-linecap="butt"/>
<line x1="133.0" y1="2389.1" x2="144.8" y2="2389.1" stroke="#000" stroke-width="4.2" stroke-linecap="butt"/>
<text x="128.7" y="2399.3" font-size="30" font-weight="bold" text-anchor="end" fill="#000">10</text>
<line x1="133.0" y1="2309.0" x2="144.8" y2="2309.0" stroke="#000" stroke-width="4.2" stroke-linecap="butt"/>
<text x="128.7" y="2319.2" font-size="30" font-weight="bold" text-anchor="end" fill="#000">20</text>
<line x1="133.0" y1="2228.8" x2="144.8" y2="2228.8" stroke="#000" stroke-width="4.2" stroke-linecap="butt"/>
<text x="128.7" y="2239.0" font-size="30" font-weight="bold" text-anchor="end" fill="#000">30</text>
<line x1="133.0" y1="2148.7" x2="144.8" y2="2148.7" stroke="#000" stroke-width="4.2" stroke-linecap="butt"/>
<text x="128.7" y="2158.9" font-size="30" font-weight="bold" text-anchor="end" fill="#000">40</text>
<line x1="133.0" y1="2068.5" x2="144.8" y2="2068.5" stroke="#000" stroke-width="4.2" stroke-linecap="butt"/>
<text x="128.7" y="2078.7" font-size="30" font-weight="bold" text-anchor="end" fill="#000">50</text>
<line x1="133.0" y1="1988.4" x2="144.8" y2="1988.4" stroke="#000" stroke-width="4.2" stroke-linecap="butt"/>
<text x="128.7" y="1998.6" font-size="30" font-weight="bold" text-anchor="end" fill="#000">60</text>
<line x1="193.9" y1="2389.1" x2="193.9" y2="2400.4" stroke="#000" stroke-width="4.2" stroke-linecap="butt"/>
<text x="193.9" y="2430.8" font-size="30" font-weight="bold" text-anchor="middle" fill="#000">0.5-2.0</text>
<line x1="344.5" y1="2389.1" x2="344.5" y2="2400.4" stroke="#000" stroke-width="4.2" stroke-linecap="butt"/>
<text x="344.5" y="2430.8" font-size="30" font-weight="bold" text-anchor="middle" fill="#000">2.5-4.0</text>
<line x1="494.5" y1="2389.1" x2="494.5" y2="2400.4" stroke="#000" stroke-width="4.2" stroke-linecap="butt"/>
<text x="494.5" y="2430.8" font-size="30" font-weight="bold" text-anchor="middle" fill="#000">4.5-6.0</text>
<text x="344.6" y="1942.0" font-size="39.55" font-weight="bold" text-anchor="middle" fill="#000">Fear conditioning</text>
<text x="343.5" y="2477.0" font-size="33.5" font-weight="bold" text-anchor="middle" fill="#000">Inter-E-shock interval</text>
<text x="76.0" y="2187.5" font-size="33.4" font-weight="bold" text-anchor="middle" fill="#000" transform="rotate(-90 76.0 2187.5)">Time freezing (%)</text>
<line x1="202.9" y1="2243.1" x2="335.5" y2="2208.1" stroke="#000" stroke-width="3.7" stroke-linecap="butt"/>
<line x1="352.5" y1="2201.1" x2="486.5" y2="2123.4" stroke="#000" stroke-width="3.7" stroke-linecap="butt"/>
<line x1="193.9" y1="2200.5" x2="193.9" y2="2236.2" stroke="#000" stroke-width="3.7" stroke-linecap="butt"/>
<line x1="185.9" y1="2200.5" x2="201.9" y2="2200.5" stroke="#000" stroke-width="3.7" stroke-linecap="butt"/>
<line x1="193.9" y1="2254.8" x2="193.9" y2="2290.8" stroke="#000" stroke-width="3.7" stroke-linecap="butt"/>
<line x1="185.9" y1="2290.8" x2="201.9" y2="2290.8" stroke="#000" stroke-width="3.7" stroke-linecap="butt"/>
<line x1="344.5" y1="2147.5" x2="344.5" y2="2196.4" stroke="#000" stroke-width="3.7" stroke-linecap="butt"/>
<line x1="336.5" y1="2147.5" x2="352.5" y2="2147.5" stroke="#000" stroke-width="3.7" stroke-linecap="butt"/>
<line x1="344.5" y1="2215.1" x2="344.5" y2="2264.0" stroke="#000" stroke-width="3.7" stroke-linecap="butt"/>
<line x1="336.5" y1="2264.0" x2="352.5" y2="2264.0" stroke="#000" stroke-width="3.7" stroke-linecap="butt"/>
<line x1="494.5" y1="2060.5" x2="494.5" y2="2109.4" stroke="#000" stroke-width="3.7" stroke-linecap="butt"/>
<line x1="486.5" y1="2060.5" x2="502.5" y2="2060.5" stroke="#000" stroke-width="3.7" stroke-linecap="butt"/>
<line x1="494.5" y1="2128.1" x2="494.5" y2="2177.0" stroke="#000" stroke-width="3.7" stroke-linecap="butt"/>
<line x1="486.5" y1="2177.0" x2="502.5" y2="2177.0" stroke="#000" stroke-width="3.7" stroke-linecap="butt"/>
<circle cx="193.9" cy="2245.5" r="7.75" fill="none" stroke="#000" stroke-width="3.8"/>
<circle cx="344.5" cy="2205.8" r="7.75" fill="none" stroke="#000" stroke-width="3.8"/>
<circle cx="494.5" cy="2118.8" r="7.75" fill="none" stroke="#000" stroke-width="3.8"/>
<line x1="193.9" y1="2302.5" x2="344.5" y2="2259.2" stroke="#ff0000" stroke-width="3.7" stroke-linecap="round" stroke-dasharray="8.4 12"/>
<line x1="344.5" y1="2259.2" x2="494.5" y2="2145.5" stroke="#ff0000" stroke-width="3.7" stroke-linecap="round" stroke-dasharray="8.4 12"/>
<line x1="193.9" y1="2271.0" x2="193.9" y2="2292.5" stroke="#ff0000" stroke-width="3.7" stroke-linecap="butt"/>
<line x1="185.9" y1="2271.0" x2="201.9" y2="2271.0" stroke="#ff0000" stroke-width="3.7" stroke-linecap="butt"/>
<line x1="193.9" y1="2312.6" x2="193.9" y2="2332.0" stroke="#ff0000" stroke-width="3.7" stroke-linecap="butt"/>
<line x1="185.9" y1="2332.0" x2="201.9" y2="2332.0" stroke="#ff0000" stroke-width="3.7" stroke-linecap="butt"/>
<line x1="344.5" y1="2226.2" x2="344.5" y2="2249.2" stroke="#ff0000" stroke-width="3.7" stroke-linecap="butt"/>
<line x1="336.5" y1="2226.2" x2="352.5" y2="2226.2" stroke="#ff0000" stroke-width="3.7" stroke-linecap="butt"/>
<line x1="344.5" y1="2269.3" x2="344.5" y2="2291.8" stroke="#ff0000" stroke-width="3.7" stroke-linecap="butt"/>
<line x1="336.5" y1="2291.8" x2="352.5" y2="2291.8" stroke="#ff0000" stroke-width="3.7" stroke-linecap="butt"/>
<line x1="494.5" y1="2096.2" x2="494.5" y2="2135.5" stroke="#ff0000" stroke-width="3.7" stroke-linecap="butt"/>
<line x1="486.5" y1="2096.2" x2="502.5" y2="2096.2" stroke="#ff0000" stroke-width="3.7" stroke-linecap="butt"/>
<line x1="494.5" y1="2155.6" x2="494.5" y2="2191.2" stroke="#ff0000" stroke-width="3.7" stroke-linecap="butt"/>
<line x1="486.5" y1="2191.2" x2="502.5" y2="2191.2" stroke="#ff0000" stroke-width="3.7" stroke-linecap="butt"/>
<path d="M193.9,2296.5 L201.5,2310.8 L186.3,2310.8Z" fill="none" stroke="#ff0000" stroke-width="3.7" stroke-linejoin="miter"/>
<path d="M344.5,2253.2 L352.1,2267.5 L336.9,2267.5Z" fill="none" stroke="#ff0000" stroke-width="3.7" stroke-linejoin="miter"/>
<path d="M494.5,2139.5 L502.1,2153.8 L486.9,2153.8Z" fill="none" stroke="#ff0000" stroke-width="3.7" stroke-linejoin="miter"/>
<line x1="193.9" y1="2228.0" x2="344.5" y2="2215.0" stroke="#0000ff" stroke-width="3.7" stroke-linecap="round" stroke-dasharray="8.3 11.4 0.6 11.4"/>
<line x1="344.5" y1="2215.0" x2="494.5" y2="2145.0" stroke="#0000ff" stroke-width="3.7" stroke-linecap="round" stroke-dasharray="8.3 11.4 0.6 11.4"/>
<line x1="193.9" y1="2186.2" x2="193.9" y2="2218.2" stroke="#0000ff" stroke-width="3.7" stroke-linecap="butt"/>
<line x1="185.9" y1="2186.2" x2="201.9" y2="2186.2" stroke="#0000ff" stroke-width="3.7" stroke-linecap="butt"/>
<line x1="193.9" y1="2237.8" x2="193.9" y2="2270.5" stroke="#0000ff" stroke-width="3.7" stroke-linecap="butt"/>
<line x1="185.9" y1="2270.5" x2="201.9" y2="2270.5" stroke="#0000ff" stroke-width="3.7" stroke-linecap="butt"/>
<line x1="344.5" y1="2187.0" x2="344.5" y2="2205.2" stroke="#0000ff" stroke-width="3.7" stroke-linecap="butt"/>
<line x1="336.5" y1="2187.0" x2="352.5" y2="2187.0" stroke="#0000ff" stroke-width="3.7" stroke-linecap="butt"/>
<line x1="344.5" y1="2224.8" x2="344.5" y2="2242.0" stroke="#0000ff" stroke-width="3.7" stroke-linecap="butt"/>
<line x1="336.5" y1="2242.0" x2="352.5" y2="2242.0" stroke="#0000ff" stroke-width="3.7" stroke-linecap="butt"/>
<line x1="494.5" y1="2105.8" x2="494.5" y2="2135.2" stroke="#0000ff" stroke-width="3.7" stroke-linecap="butt"/>
<line x1="486.5" y1="2105.8" x2="502.5" y2="2105.8" stroke="#0000ff" stroke-width="3.7" stroke-linecap="butt"/>
<line x1="494.5" y1="2154.8" x2="494.5" y2="2183.0" stroke="#0000ff" stroke-width="3.7" stroke-linecap="butt"/>
<line x1="486.5" y1="2183.0" x2="502.5" y2="2183.0" stroke="#0000ff" stroke-width="3.7" stroke-linecap="butt"/>
<rect x="185.9" y="2220.0" width="16" height="16" fill="none" stroke="#0000ff" stroke-width="3.8"/>
<rect x="336.5" y="2207.0" width="16" height="16" fill="none" stroke="#0000ff" stroke-width="3.8"/>
<rect x="486.5" y="2137.0" width="16" height="16" fill="none" stroke="#0000ff" stroke-width="3.8"/>
<line x1="562.8" y1="2016.3" x2="598.4" y2="2016.3" stroke="#000" stroke-width="3.7" stroke-linecap="round"/>
<circle cx="579.0" cy="2016.3" r="7.75" fill="none" stroke="#000" stroke-width="3.8"/>
<text x="624.0" y="2028.0" font-size="33.0" text-anchor="start" fill="#000">Ctrl</text>
<line x1="562.8" y1="2062.4" x2="598.4" y2="2062.4" stroke="#ff0000" stroke-width="3.7" stroke-linecap="round" stroke-dasharray="8.4 12" stroke-dashoffset="5.35"/>
<path d="M579.0,2056.4 L586.6,2070.7 L571.4,2070.7Z" fill="none" stroke="#ff0000" stroke-width="3.7" stroke-linejoin="miter"/>
<text x="624.0" y="2074.0" font-size="33.0" text-anchor="start" fill="#000">EAE</text>
<line x1="562.8" y1="2108.3" x2="598.4" y2="2108.3" stroke="#0000ff" stroke-width="3.7" stroke-linecap="round" stroke-dasharray="8.3 11.4 0.6 11.4" stroke-dashoffset="5.35"/>
<rect x="571.0" y="2100.3" width="16" height="16" fill="none" stroke="#0000ff" stroke-width="3.8"/>
<text x="624.0" y="2120.0" font-size="33.0" text-anchor="start" fill="#000">EAE+MCC950</text>
<line x1="1000.2" y1="1988.4" x2="1000.2" y2="2389.1" stroke="#000" stroke-width="4.2" stroke-linecap="square"/>
<line x1="1000.2" y1="2389.1" x2="1603.3" y2="2389.1" stroke="#000" stroke-width="4.2" stroke-linecap="butt"/>
<line x1="988.9" y1="1988.4" x2="1000.2" y2="1988.4" stroke="#000" stroke-width="4.2" stroke-linecap="butt"/>
<text x="984.6" y="1998.6" font-size="30" font-weight="bold" text-anchor="end" fill="#000">90</text>
<line x1="988.9" y1="2138.7" x2="1000.2" y2="2138.7" stroke="#000" stroke-width="4.2" stroke-linecap="butt"/>
<text x="984.6" y="2148.8" font-size="30" font-weight="bold" text-anchor="end" fill="#000">60</text>
<line x1="988.9" y1="2288.9" x2="1000.2" y2="2288.9" stroke="#000" stroke-width="4.2" stroke-linecap="butt"/>
<text x="984.6" y="2299.1" font-size="30" font-weight="bold" text-anchor="end" fill="#000">30</text>
<line x1="1054.4" y1="2389.1" x2="1054.4" y2="2400.4" stroke="#000" stroke-width="4.2" stroke-linecap="butt"/>
<text x="1054.4" y="2430.9" font-size="30" font-weight="bold" text-anchor="middle" fill="#000">0.5-2.0</text>
<line x1="1218.6" y1="2389.1" x2="1218.6" y2="2400.4" stroke="#000" stroke-width="4.2" stroke-linecap="butt"/>
<text x="1218.6" y="2430.9" font-size="30" font-weight="bold" text-anchor="middle" fill="#000">2.5-4.0</text>
<line x1="1382.6" y1="2389.1" x2="1382.6" y2="2400.4" stroke="#000" stroke-width="4.2" stroke-linecap="butt"/>
<text x="1382.6" y="2430.9" font-size="30" font-weight="bold" text-anchor="middle" fill="#000">4.5-6.0</text>
<line x1="1546.7" y1="2389.1" x2="1546.7" y2="2400.4" stroke="#000" stroke-width="4.2" stroke-linecap="butt"/>
<text x="1546.7" y="2430.9" font-size="30" font-weight="bold" text-anchor="middle" fill="#000">6.5-8.0</text>
<text x="1299.7" y="1942.2" font-size="38.7" font-weight="bold" text-anchor="middle" fill="#000">Fear Expression 24h</text>
<text x="1301.3" y="2477.0" font-size="33.5" font-weight="bold" text-anchor="middle" fill="#000">Test interval (1.5-min bins)</text>
<text x="932.0" y="2187.0" font-size="33.4" font-weight="bold" text-anchor="middle" fill="#000" transform="rotate(-90 932.0 2187.0)">Time freezing (%)</text>
<line x1="1063.5" y1="2084.5" x2="1209.5" y2="2116.3" stroke="#000" stroke-width="3.7" stroke-linecap="butt"/>
<line x1="1227.9" y1="2118.6" x2="1373.3" y2="2123.4" stroke="#000" stroke-width="3.7" stroke-linecap="butt"/>
<line x1="1391.9" y1="2124.3" x2="1537.4" y2="2133.2" stroke="#000" stroke-width="3.7" stroke-linecap="butt"/>
<line x1="1054.4" y1="2065.8" x2="1054.4" y2="2073.2" stroke="#000" stroke-width="3.7" stroke-linecap="butt"/>
<line x1="1046.4" y1="2065.8" x2="1062.4" y2="2065.8" stroke="#000" stroke-width="3.7" stroke-linecap="butt"/>
<line x1="1054.4" y1="2091.8" x2="1054.4" y2="2099.2" stroke="#000" stroke-width="3.7" stroke-linecap="butt"/>
<line x1="1046.4" y1="2099.2" x2="1062.4" y2="2099.2" stroke="#000" stroke-width="3.7" stroke-linecap="butt"/>
<line x1="1218.6" y1="2104.2" x2="1218.6" y2="2108.9" stroke="#000" stroke-width="3.7" stroke-linecap="butt"/>
<line x1="1210.6" y1="2104.2" x2="1226.6" y2="2104.2" stroke="#000" stroke-width="3.7" stroke-linecap="butt"/>
<line x1="1218.6" y1="2127.6" x2="1218.6" y2="2132.5" stroke="#000" stroke-width="3.7" stroke-linecap="butt"/>
<line x1="1210.6" y1="2132.5" x2="1226.6" y2="2132.5" stroke="#000" stroke-width="3.7" stroke-linecap="butt"/>
<line x1="1382.6" y1="2085.0" x2="1382.6" y2="2114.4" stroke="#000" stroke-width="3.7" stroke-linecap="butt"/>
<line x1="1374.6" y1="2085.0" x2="1390.6" y2="2085.0" stroke="#000" stroke-width="3.7" stroke-linecap="butt"/>
<line x1="1382.6" y1="2133.1" x2="1382.6" y2="2161.5" stroke="#000" stroke-width="3.7" stroke-linecap="butt"/>
<line x1="1374.6" y1="2161.5" x2="1390.6" y2="2161.5" stroke="#000" stroke-width="3.7" stroke-linecap="butt"/>
<line x1="1546.7" y1="2091.2" x2="1546.7" y2="2124.4" stroke="#000" stroke-width="3.7" stroke-linecap="butt"/>
<line x1="1538.7" y1="2091.2" x2="1554.7" y2="2091.2" stroke="#000" stroke-width="3.7" stroke-linecap="butt"/>
<line x1="1546.7" y1="2143.1" x2="1546.7" y2="2175.8" stroke="#000" stroke-width="3.7" stroke-linecap="butt"/>
<line x1="1538.7" y1="2175.8" x2="1554.7" y2="2175.8" stroke="#000" stroke-width="3.7" stroke-linecap="butt"/>
<circle cx="1054.4" cy="2082.5" r="7.75" fill="none" stroke="#000" stroke-width="3.8"/>
<circle cx="1218.6" cy="2118.2" r="7.75" fill="none" stroke="#000" stroke-width="3.8"/>
<circle cx="1382.6" cy="2123.8" r="7.75" fill="none" stroke="#000" stroke-width="3.8"/>
<circle cx="1546.7" cy="2133.8" r="7.75" fill="none" stroke="#000" stroke-width="3.8"/>
<line x1="1054.4" y1="2199.4" x2="1218.6" y2="2252.5" stroke="#ff0000" stroke-width="3.7" stroke-linecap="round" stroke-dasharray="8.4 12"/>
<line x1="1218.6" y1="2252.5" x2="1382.6" y2="2283.0" stroke="#ff0000" stroke-width="3.7" stroke-linecap="round" stroke-dasharray="8.4 12"/>
<line x1="1382.6" y1="2283.0" x2="1546.7" y2="2274.5" stroke="#ff0000" stroke-width="3.7" stroke-linecap="round" stroke-dasharray="8.4 12"/>
<line x1="1054.4" y1="2158.2" x2="1054.4" y2="2189.4" stroke="#ff0000" stroke-width="3.7" stroke-linecap="butt"/>
<line x1="1046.4" y1="2158.2" x2="1062.4" y2="2158.2" stroke="#ff0000" stroke-width="3.7" stroke-linecap="butt"/>
<line x1="1054.4" y1="2209.5" x2="1054.4" y2="2240.0" stroke="#ff0000" stroke-width="3.7" stroke-linecap="butt"/>
<line x1="1046.4" y1="2240.0" x2="1062.4" y2="2240.0" stroke="#ff0000" stroke-width="3.7" stroke-linecap="butt"/>
<line x1="1218.6" y1="2218.0" x2="1218.6" y2="2242.5" stroke="#ff0000" stroke-width="3.7" stroke-linecap="butt"/>
<line x1="1210.6" y1="2218.0" x2="1226.6" y2="2218.0" stroke="#ff0000" stroke-width="3.7" stroke-linecap="butt"/>
<line x1="1218.6" y1="2262.6" x2="1218.6" y2="2285.8" stroke="#ff0000" stroke-width="3.7" stroke-linecap="butt"/>
<line x1="1210.6" y1="2285.8" x2="1226.6" y2="2285.8" stroke="#ff0000" stroke-width="3.7" stroke-linecap="butt"/>
<line x1="1382.6" y1="2248.8" x2="1382.6" y2="2273.0" stroke="#ff0000" stroke-width="3.7" stroke-linecap="butt"/>
<line x1="1374.6" y1="2248.8" x2="1390.6" y2="2248.8" stroke="#ff0000" stroke-width="3.7" stroke-linecap="butt"/>
<line x1="1382.6" y1="2293.1" x2="1382.6" y2="2317.0" stroke="#ff0000" stroke-width="3.7" stroke-linecap="butt"/>
<line x1="1374.6" y1="2317.0" x2="1390.6" y2="2317.0" stroke="#ff0000" stroke-width="3.7" stroke-linecap="butt"/>
<line x1="1546.7" y1="2228.8" x2="1546.7" y2="2264.5" stroke="#ff0000" stroke-width="3.7" stroke-linecap="butt"/>
<line x1="1538.7" y1="2228.8" x2="1554.7" y2="2228.8" stroke="#ff0000" stroke-width="3.7" stroke-linecap="butt"/>
<line x1="1546.7" y1="2284.6" x2="1546.7" y2="2317.5" stroke="#ff0000" stroke-width="3.7" stroke-linecap="butt"/>
<line x1="1538.7" y1="2317.5" x2="1554.7" y2="2317.5" stroke="#ff0000" stroke-width="3.7" stroke-linecap="butt"/>
<path d="M1054.4,2193.4 L1062.0,2207.7 L1046.8,2207.7Z" fill="none" stroke="#ff0000" stroke-width="3.7" stroke-linejoin="miter"/>
<path d="M1218.6,2246.5 L1226.2,2260.8 L1211.0,2260.8Z" fill="none" stroke="#ff0000" stroke-width="3.7" stroke-linejoin="miter"/>
<path d="M1382.6,2277.0 L1390.2,2291.2 L1375.0,2291.2Z" fill="none" stroke="#ff0000" stroke-width="3.7" stroke-linejoin="miter"/>
<path d="M1546.7,2268.5 L1554.3,2282.8 L1539.1,2282.8Z" fill="none" stroke="#ff0000" stroke-width="3.7" stroke-linejoin="miter"/>
<line x1="1054.4" y1="2129.6" x2="1218.6" y2="2146.2" stroke="#0000ff" stroke-width="3.7" stroke-linecap="round" stroke-dasharray="8.3 11.4 0.6 11.4"/>
<line x1="1218.6" y1="2146.2" x2="1382.6" y2="2167.0" stroke="#0000ff" stroke-width="3.7" stroke-linecap="round" stroke-dasharray="8.3 11.4 0.6 11.4"/>
<line x1="1382.6" y1="2167.0" x2="1546.7" y2="2229.5" stroke="#0000ff" stroke-width="3.7" stroke-linecap="round" stroke-dasharray="8.3 11.4 0.6 11.4"/>
<line x1="1054.4" y1="2113.2" x2="1054.4" y2="2119.8" stroke="#0000ff" stroke-width="3.7" stroke-linecap="butt"/>
<line x1="1046.4" y1="2113.2" x2="1062.4" y2="2113.2" stroke="#0000ff" stroke-width="3.7" stroke-linecap="butt"/>
<line x1="1054.4" y1="2139.4" x2="1054.4" y2="2145.5" stroke="#0000ff" stroke-width="3.7" stroke-linecap="butt"/>
<line x1="1046.4" y1="2145.5" x2="1062.4" y2="2145.5" stroke="#0000ff" stroke-width="3.7" stroke-linecap="butt"/>
<line x1="1218.6" y1="2120.5" x2="1218.6" y2="2136.4" stroke="#0000ff" stroke-width="3.7" stroke-linecap="butt"/>
<line x1="1210.6" y1="2120.5" x2="1226.6" y2="2120.5" stroke="#0000ff" stroke-width="3.7" stroke-linecap="butt"/>
<line x1="1218.6" y1="2156.1" x2="1218.6" y2="2173.0" stroke="#0000ff" stroke-width="3.7" stroke-linecap="butt"/>
<line x1="1210.6" y1="2173.0" x2="1226.6" y2="2173.0" stroke="#0000ff" stroke-width="3.7" stroke-linecap="butt"/>
<line x1="1382.6" y1="2145.5" x2="1382.6" y2="2157.2" stroke="#0000ff" stroke-width="3.7" stroke-linecap="butt"/>
<line x1="1374.6" y1="2145.5" x2="1390.6" y2="2145.5" stroke="#0000ff" stroke-width="3.7" stroke-linecap="butt"/>
<line x1="1382.6" y1="2176.8" x2="1382.6" y2="2187.8" stroke="#0000ff" stroke-width="3.7" stroke-linecap="butt"/>
<line x1="1374.6" y1="2187.8" x2="1390.6" y2="2187.8" stroke="#0000ff" stroke-width="3.7" stroke-linecap="butt"/>
<line x1="1546.7" y1="2178.8" x2="1546.7" y2="2219.7" stroke="#0000ff" stroke-width="3.7" stroke-linecap="butt"/>
<line x1="1538.7" y1="2178.8" x2="1554.7" y2="2178.8" stroke="#0000ff" stroke-width="3.7" stroke-linecap="butt"/>
<line x1="1546.7" y1="2239.3" x2="1546.7" y2="2280.0" stroke="#0000ff" stroke-width="3.7" stroke-linecap="butt"/>
<line x1="1538.7" y1="2280.0" x2="1554.7" y2="2280.0" stroke="#0000ff" stroke-width="3.7" stroke-linecap="butt"/>
<rect x="1046.4" y="2121.6" width="16" height="16" fill="none" stroke="#0000ff" stroke-width="3.8"/>
<rect x="1210.6" y="2138.2" width="16" height="16" fill="none" stroke="#0000ff" stroke-width="3.8"/>
<rect x="1374.6" y="2159.0" width="16" height="16" fill="none" stroke="#0000ff" stroke-width="3.8"/>
<rect x="1538.7" y="2221.5" width="16" height="16" fill="none" stroke="#0000ff" stroke-width="3.8"/>
<text x="1218.6" y="2083.8" font-size="55" text-anchor="middle" fill="#000" stroke="#000" stroke-width="1" stroke-linejoin="round">*</text>
<text x="1382.6" y="2066.2" font-size="55" text-anchor="middle" fill="#000" stroke="#000" stroke-width="1" stroke-linejoin="round">*</text>
<line x1="1617.8" y1="2016.3" x2="1656.9" y2="2016.3" stroke="#000" stroke-width="3.7" stroke-linecap="round"/>
<circle cx="1637.3" cy="2016.3" r="7.75" fill="none" stroke="#000" stroke-width="3.8"/>
<text x="1682.5" y="2029.0" font-size="32.8" text-anchor="start" fill="#000">Ctrl</text>
<line x1="1617.8" y1="2062.3" x2="1656.9" y2="2062.3" stroke="#ff0000" stroke-width="3.7" stroke-linecap="round" stroke-dasharray="8.4 12" stroke-dashoffset="2.2"/>
<path d="M1637.3,2056.3 L1644.9,2070.6 L1629.7,2070.6Z" fill="none" stroke="#ff0000" stroke-width="3.7" stroke-linejoin="miter"/>
<text x="1682.5" y="2075.0" font-size="32.8" text-anchor="start" fill="#000">EAE</text>
<line x1="1617.8" y1="2108.2" x2="1656.9" y2="2108.2" stroke="#0000ff" stroke-width="3.7" stroke-linecap="round" stroke-dasharray="8.3 11.4 0.6 11.4" stroke-dashoffset="2.2"/>
<rect x="1629.3" y="2100.2" width="16" height="16" fill="none" stroke="#0000ff" stroke-width="3.8"/>
<text x="1682.5" y="2119.5" font-size="32.8" text-anchor="start" fill="#000">EAE+MCC950</text>
<circle cx="1038.7" cy="905.9" r="150.2" fill="none" stroke="#111" stroke-width="1.9"/>
<circle cx="1038.7" cy="906.2" r="101.4" fill="none" stroke="#111" stroke-width="1.9"/>
<line x1="1038.7" y1="755.7" x2="1038.7" y2="1056.1" stroke="#222" stroke-width="1.3" stroke-linecap="butt"/>
<line x1="886.6" y1="906.1" x2="1189.2" y2="906.1" stroke="#222" stroke-width="1.3" stroke-linecap="butt"/>
<circle cx="984.3" cy="846.9" r="10.3" fill="none" stroke="#111" stroke-width="1.7"/>
<path d="M974.2,845.2 C974.7,846.3 975.7,849.5 977.3,851.3 C978.8,853.2 981.3,854.7 983.3,856.4 C985.4,858.1 988.1,859.6 989.4,861.4 C990.8,863.3 990.1,865.1 991.4,867.5 C992.8,869.9 996.0,872.6 997.5,875.6 C999.0,878.6 1000.2,882.0 1000.5,885.7 C1000.9,889.4 999.4,894.2 999.5,897.9 C999.7,901.6 1001.0,903.9 1001.6,908.0 C1002.1,912.0 1003.6,918.8 1002.6,922.1 C1001.6,925.5 998.3,926.5 995.5,928.2 C992.6,929.9 989.4,932.1 985.4,932.3 C981.3,932.4 975.6,931.6 971.2,929.2 C966.8,926.9 962.4,922.3 959.1,918.1 C955.7,913.9 952.9,908.3 951.0,903.9 C949.0,899.5 947.5,895.5 947.3,891.8 C947.1,888.1 948.3,884.0 949.9,881.7 C951.6,879.3 954.5,877.6 957.0,877.6 C959.6,877.6 962.1,879.6 965.1,881.7 C968.2,883.7 971.9,887.4 975.2,889.8 C978.6,892.1 981.3,894.6 985.4,895.8 C989.4,897.1 995.1,898.0 999.5,897.5 C1003.9,897.0 1008.1,893.7 1011.7,892.8 C1015.2,891.9 1017.7,891.0 1020.8,892.2 C1023.8,893.4 1027.0,897.3 1029.9,899.9 C1032.8,902.5 1035.3,904.6 1038.0,908.0 C1040.7,911.4 1043.0,916.2 1046.1,920.1 C1049.1,924.0 1052.5,927.9 1056.2,931.3 C1059.9,934.6 1064.3,937.5 1068.3,940.4 C1072.4,943.2 1077.3,944.7 1080.5,948.5 C1083.7,952.2 1085.4,957.6 1087.6,962.6 C1089.8,967.7 1091.4,974.1 1093.6,978.8 C1095.8,983.5 1097.5,987.8 1100.7,991.0 C1103.9,994.2 1108.8,996.0 1112.9,998.0 C1116.9,1000.1 1122.1,1000.7 1125.0,1003.1 C1127.9,1005.5 1129.7,1009.2 1130.1,1012.2 C1130.4,1015.2 1127.5,1019.8 1127.0,1021.3" fill="none" stroke="#f01e1e" stroke-width="1.2" stroke-linejoin="round"/>
<text x="1038.5" y="1126.5" font-size="32.8" text-anchor="middle" fill="#000">Ctrl</text>
<circle cx="1376.0" cy="906.0" r="150.2" fill="none" stroke="#111" stroke-width="1.9"/>
<circle cx="1376.0" cy="906.3" r="101.4" fill="none" stroke="#111" stroke-width="1.9"/>
<line x1="1376.0" y1="755.8" x2="1376.0" y2="1056.2" stroke="#222" stroke-width="1.3" stroke-linecap="butt"/>
<line x1="1223.8" y1="906.2" x2="1527.2" y2="906.2" stroke="#222" stroke-width="1.3" stroke-linecap="butt"/>
<circle cx="1321.4" cy="848.3" r="10.3" fill="none" stroke="#111" stroke-width="1.7"/>
<path d="M1428.6,925.2 C1426.4,923.3 1420.4,917.6 1415.5,914.1 C1410.6,910.5 1404.7,906.8 1399.3,903.9 C1393.9,901.1 1388.5,898.9 1383.1,896.9 C1377.7,894.8 1372.3,893.3 1366.9,891.8 C1361.5,890.3 1355.8,889.4 1350.7,887.7 C1345.7,886.1 1340.6,884.4 1336.6,881.7 C1332.5,879.0 1330.1,874.6 1326.4,871.6 C1322.7,868.5 1318.7,866.0 1314.3,863.5 C1309.9,860.9 1304.8,858.6 1300.1,856.4 C1295.4,854.2 1290.7,851.8 1286.0,850.3 C1281.2,848.8 1276.8,847.4 1271.8,847.3 C1266.7,847.1 1260.3,847.9 1255.6,849.3 C1250.9,850.6 1246.7,852.7 1243.5,855.4 C1240.2,858.1 1237.6,862.1 1236.4,865.5 C1235.2,868.9 1235.7,872.2 1236.4,875.6 C1237.0,879.0 1239.9,881.7 1240.4,885.7 C1240.9,889.8 1240.2,895.5 1239.4,899.9 C1238.6,904.3 1236.7,908.3 1235.4,912.0 C1234.0,915.7 1231.8,919.3 1231.3,922.1 C1230.8,925.0 1232.2,928.1 1232.3,929.2" fill="none" stroke="#f01e1e" stroke-width="1.2" stroke-linejoin="round"/>
<path d="M1232.3,929.2 C1232.8,926.7 1233.8,920.0 1235.4,914.1 C1236.9,908.2 1239.7,899.5 1241.4,893.8 C1243.1,888.1 1243.5,883.4 1245.5,879.6 C1247.5,875.9 1250.2,873.4 1253.6,871.6 C1256.9,869.7 1261.0,868.7 1265.7,868.5 C1270.4,868.3 1275.8,870.5 1281.9,870.5 C1288.0,870.5 1296.1,869.5 1302.1,868.5 C1308.2,867.5 1311.6,865.6 1318.3,864.5 C1325.1,863.3 1332.8,862.9 1342.6,861.4 C1352.4,860.0 1364.5,856.9 1377.0,855.8 C1389.5,854.6 1404.0,855.4 1417.5,854.3 C1431.0,853.3 1446.2,850.8 1458.0,849.3 C1469.8,847.8 1481.3,846.8 1488.3,845.2 C1495.4,843.7 1497.5,840.7 1500.5,840.2 C1503.5,839.7 1504.9,839.3 1506.6,842.2 C1508.2,845.1 1510.3,852.5 1510.6,857.4 C1510.9,862.3 1510.3,866.2 1508.6,871.6 C1506.9,876.9 1503.2,883.4 1500.5,889.8 C1497.8,896.2 1495.1,902.9 1492.4,910.0 C1489.7,917.1 1487.0,924.2 1484.3,932.3 C1481.6,940.4 1478.6,950.1 1476.2,958.6 C1473.8,967.0 1471.6,975.4 1470.1,982.9 C1468.6,990.3 1467.6,997.0 1467.1,1003.1 C1466.6,1009.2 1468.9,1015.6 1467.1,1019.3 C1465.2,1023.0 1460.5,1023.2 1456.0,1025.4 C1451.4,1027.6 1442.5,1031.3 1439.8,1032.5" fill="none" stroke="#f01e1e" stroke-width="1.2" stroke-linejoin="round"/>
<path d="M1232.3,923.2 C1234.5,921.3 1240.6,916.2 1245.5,912.0 C1250.4,907.8 1256.9,901.9 1261.7,897.9 C1266.4,893.8 1269.8,890.4 1273.8,887.7 C1277.9,885.0 1281.9,882.5 1286.0,881.7 C1290.0,880.8 1294.1,881.3 1298.1,882.7 C1302.1,884.0 1305.5,887.2 1310.2,889.8 C1315.0,892.3 1321.0,895.2 1326.4,897.9 C1331.8,900.6 1337.2,902.9 1342.6,906.0 C1348.0,909.0 1354.1,912.4 1358.8,916.1 C1363.5,919.8 1367.9,924.2 1371.0,928.2 C1374.0,932.3 1374.3,936.0 1377.0,940.4 C1379.7,944.7 1383.4,949.1 1387.1,954.5 C1390.9,959.9 1395.6,967.0 1399.3,972.7 C1403.0,978.5 1406.4,983.5 1409.4,988.9 C1412.4,994.3 1414.8,1000.1 1417.5,1005.1 C1420.2,1010.2 1422.9,1015.6 1425.6,1019.3 C1428.3,1023.0 1431.3,1025.2 1433.7,1027.4 C1436.1,1029.6 1438.8,1031.6 1439.8,1032.5" fill="none" stroke="#f01e1e" stroke-width="1.2" stroke-linejoin="round"/>
<path d="M1232.3,924.2 C1234.5,923.8 1240.6,922.3 1245.5,922.1 C1250.4,922.0 1255.6,921.5 1261.7,923.2 C1267.7,924.8 1275.2,929.1 1281.9,932.3 C1288.7,935.5 1296.1,938.7 1302.1,942.4 C1308.2,946.1 1312.9,950.5 1318.3,954.5 C1323.7,958.6 1329.1,963.1 1334.5,966.7 C1339.9,970.2 1345.3,973.8 1350.7,975.8 C1356.1,977.8 1360.8,978.8 1366.9,978.8 C1373.0,978.8 1380.4,976.3 1387.1,975.8 C1393.9,975.3 1401.0,976.3 1407.4,975.8 C1413.8,975.3 1420.2,974.9 1425.6,972.7 C1431.0,970.6 1435.7,967.0 1439.8,962.6 C1443.8,958.2 1446.9,952.5 1449.9,946.4 C1452.9,940.4 1455.6,933.6 1458.0,926.2 C1460.3,918.8 1462.4,909.3 1464.1,901.9 C1465.7,894.5 1466.8,888.4 1468.1,881.7 C1469.5,874.9 1470.5,868.2 1472.2,861.4 C1473.8,854.7 1477.0,846.9 1478.2,841.2 C1479.4,835.5 1479.9,832.4 1479.2,827.0 C1478.6,821.6 1476.0,814.2 1474.2,808.8 C1472.3,803.4 1471.5,798.4 1468.1,794.6 C1464.7,790.9 1457.8,785.9 1453.9,786.5 C1450.1,787.2 1446.7,795.3 1444.8,798.7 C1443.0,802.1 1442.3,803.1 1442.8,806.8 C1443.3,810.5 1445.8,815.9 1447.9,821.0 C1449.9,826.0 1454.1,831.1 1454.9,837.1 C1455.8,843.2 1453.3,850.6 1452.9,857.4 C1452.6,864.1 1452.1,870.9 1452.9,877.6 C1453.8,884.4 1455.8,891.1 1458.0,897.9 C1460.2,904.6 1464.2,911.4 1466.1,918.1 C1467.9,924.8 1468.8,930.9 1469.1,938.3 C1469.5,945.8 1468.9,953.5 1468.1,962.6 C1467.3,971.7 1465.7,984.6 1464.1,993.0 C1462.4,1001.4 1460.0,1007.5 1458.0,1013.2 C1456.0,1019.0 1454.9,1024.2 1451.9,1027.4 C1448.9,1030.6 1441.8,1031.6 1439.8,1032.5" fill="none" stroke="#f01e1e" stroke-width="1.2" stroke-linejoin="round"/>
<path d="M1232.3,926.2 C1235.2,927.5 1244.0,931.3 1249.5,934.3 C1255.1,937.3 1261.0,941.0 1265.7,944.4 C1270.4,947.8 1274.5,952.2 1277.9,954.5 C1281.2,956.9 1282.9,958.2 1286.0,958.6 C1289.0,958.9 1292.7,958.6 1296.1,956.6 C1299.4,954.5 1302.8,950.1 1306.2,946.4 C1309.6,942.7 1312.9,939.4 1316.3,934.3 C1319.7,929.2 1323.4,922.8 1326.4,916.1 C1329.5,909.3 1331.8,901.6 1334.5,893.8 C1337.2,886.1 1339.9,876.3 1342.6,869.5 C1345.3,862.8 1348.4,858.1 1350.7,853.3 C1353.1,848.6 1355.3,845.2 1356.8,841.2 C1358.3,837.1 1360.2,831.7 1359.8,829.1 C1359.5,826.4 1356.6,825.0 1354.8,825.0 C1352.9,825.0 1350.0,826.4 1348.7,829.1 C1347.3,831.7 1346.3,836.8 1346.7,841.2 C1347.0,845.6 1349.2,850.3 1350.7,855.4 C1352.2,860.4 1354.9,865.8 1355.8,871.6 C1356.6,877.3 1356.6,883.4 1355.8,889.8 C1354.9,896.2 1352.9,903.3 1350.7,910.0 C1348.5,916.8 1345.7,924.2 1342.6,930.2 C1339.6,936.3 1336.6,941.4 1332.5,946.4 C1328.5,951.5 1323.4,955.9 1318.3,960.6 C1313.3,965.3 1307.5,970.0 1302.1,974.8 C1296.7,979.5 1289.8,984.6 1286.0,988.9 C1282.1,993.3 1280.1,996.7 1278.9,1001.1 C1277.7,1005.5 1278.0,1011.4 1278.9,1015.2 C1279.7,1019.1 1281.1,1024.4 1283.9,1024.4 C1286.8,1024.4 1289.0,1019.0 1296.1,1015.2 C1303.2,1011.5 1317.3,1006.5 1326.4,1002.1 C1335.5,997.7 1342.3,991.7 1350.7,988.9 C1359.2,986.1 1370.3,985.5 1377.0,985.3 C1383.8,985.1 1387.1,986.3 1391.2,987.9 C1395.2,989.5 1398.6,991.5 1401.3,995.0 C1404.0,998.6 1406.5,1004.8 1407.4,1009.2 C1408.2,1013.6 1405.4,1019.1 1406.4,1021.3 C1407.4,1023.5 1411.3,1023.0 1413.5,1022.3 C1415.7,1021.7 1417.7,1019.1 1419.5,1017.3 C1421.4,1015.4 1424.6,1011.9 1424.6,1011.2 C1424.6,1010.5 1419.7,1011.2 1419.5,1013.2 C1419.4,1015.2 1420.5,1020.3 1423.6,1023.3 C1426.6,1026.4 1435.4,1030.1 1437.7,1031.4" fill="none" stroke="#f01e1e" stroke-width="1.2" stroke-linejoin="round"/>
<path d="M1232.3,923.2 C1236.2,922.8 1249.0,920.0 1255.6,921.1 C1262.2,922.3 1266.1,926.0 1271.8,930.2 C1277.5,934.5 1284.3,941.7 1290.0,946.4 C1295.7,951.2 1300.8,954.2 1306.2,958.6 C1311.6,963.0 1317.0,968.0 1322.4,972.7 C1327.8,977.5 1332.5,982.9 1338.6,986.9 C1344.6,991.0 1353.1,993.7 1358.8,997.0 C1364.5,1000.4 1368.3,1003.4 1373.0,1007.2 C1377.7,1010.9 1382.1,1015.8 1387.1,1019.3 C1392.2,1022.8 1397.3,1026.0 1403.3,1028.4 C1409.4,1030.8 1417.5,1032.8 1423.6,1033.5 C1429.7,1034.1 1437.1,1032.6 1439.8,1032.5" fill="none" stroke="#f01e1e" stroke-width="1.2" stroke-linejoin="round"/>
<path d="M1326.4,1041.6 C1327.8,1042.6 1330.5,1045.9 1334.5,1047.6 C1338.6,1049.3 1345.3,1051.2 1350.7,1051.7 C1356.1,1052.2 1362.5,1050.8 1366.9,1050.7 C1371.3,1050.5 1373.0,1051.8 1377.0,1050.7 C1381.1,1049.5 1386.1,1045.4 1391.2,1043.6 C1396.3,1041.7 1402.0,1040.9 1407.4,1039.5 C1412.8,1038.2 1418.2,1036.7 1423.6,1035.5 C1429.0,1034.3 1437.1,1033.0 1439.8,1032.5" fill="none" stroke="#f01e1e" stroke-width="1.2" stroke-linejoin="round"/>
<path d="M1326.4,1041.6 C1328.1,1041.4 1332.5,1040.2 1336.6,1040.5 C1340.6,1040.9 1345.7,1042.1 1350.7,1043.6 C1355.8,1045.1 1364.2,1048.6 1366.9,1049.7" fill="none" stroke="#f01e1e" stroke-width="1.2" stroke-linejoin="round"/>
<path d="M1391.2,1049.7 C1393.9,1048.3 1401.3,1043.8 1407.4,1041.6 C1413.5,1039.4 1420.2,1038.9 1427.6,1036.5 C1435.0,1034.1 1447.9,1028.9 1451.9,1027.4" fill="none" stroke="#f01e1e" stroke-width="1.2" stroke-linejoin="round"/>
<text x="1383.5" y="1121.6" font-size="32.8" text-anchor="middle" fill="#000">EAE</text>
<circle cx="1714.2" cy="906.0" r="150.2" fill="none" stroke="#111" stroke-width="1.9"/>
<circle cx="1714.2" cy="906.3" r="101.4" fill="none" stroke="#111" stroke-width="1.9"/>
<line x1="1714.2" y1="755.8" x2="1714.2" y2="1056.2" stroke="#222" stroke-width="1.3" stroke-linecap="butt"/>
<line x1="1562.2" y1="906.2" x2="1864.8" y2="906.2" stroke="#222" stroke-width="1.3" stroke-linecap="butt"/>
<circle cx="1659.8" cy="847.9" r="10.3" fill="none" stroke="#111" stroke-width="1.7"/>
<path d="M1803.0,1015.2 C1801.2,1014.1 1796.1,1010.0 1791.9,1008.2 C1787.7,1006.3 1782.1,1005.1 1777.7,1004.1 C1773.4,1003.1 1769.0,1003.8 1765.6,1002.1 C1762.2,1000.4 1760.2,997.4 1757.5,994.0 C1754.8,990.6 1751.9,985.7 1749.4,981.9 C1746.9,978.0 1743.8,974.9 1742.3,970.7 C1740.8,966.5 1740.5,962.0 1740.3,956.6 C1740.1,951.2 1740.1,944.4 1741.3,938.3 C1742.5,932.3 1745.0,925.9 1747.4,920.1 C1749.7,914.4 1752.4,909.0 1755.5,903.9 C1758.5,898.9 1762.6,894.8 1765.6,889.8 C1768.6,884.7 1770.7,878.6 1773.7,873.6 C1776.7,868.5 1779.8,863.3 1783.8,859.4 C1787.9,855.5 1793.6,853.3 1798.0,850.3 C1802.4,847.3 1807.6,844.7 1810.1,841.2 C1812.7,837.7 1813.8,832.8 1813.2,829.1 C1812.5,825.3 1809.6,821.1 1806.1,818.9 C1802.5,816.7 1798.3,816.3 1791.9,815.9 C1785.5,815.5 1775.7,816.3 1767.6,816.5 C1759.5,816.7 1750.1,816.2 1743.3,816.9 C1736.6,817.6 1732.2,819.6 1727.1,821.0 C1722.1,822.3 1718.0,823.7 1713.0,825.0 C1707.9,826.4 1701.5,827.4 1696.8,829.1 C1692.1,830.7 1688.0,832.8 1684.6,835.1 C1681.3,837.5 1678.7,840.5 1676.6,843.2 C1674.4,845.9 1672.0,849.3 1671.5,851.3 C1671.0,853.3 1673.2,854.7 1673.5,855.4" fill="none" stroke="#f01e1e" stroke-width="1.2" stroke-linejoin="round"/>
<path d="M1671.5,851.3 L1666.4,861.4 L1654.3,860.4 L1647.2,847.3 L1653.3,836.7 L1668.5,847.3 M1650.2,843.2 L1662.4,857.4" fill="none" stroke="#f01e1e" stroke-width="1.1"/>
<text x="1730.3" y="1121.6" font-size="32.8" text-anchor="middle" fill="#000">EAE + MCC950</text>
</svg></body></html>
